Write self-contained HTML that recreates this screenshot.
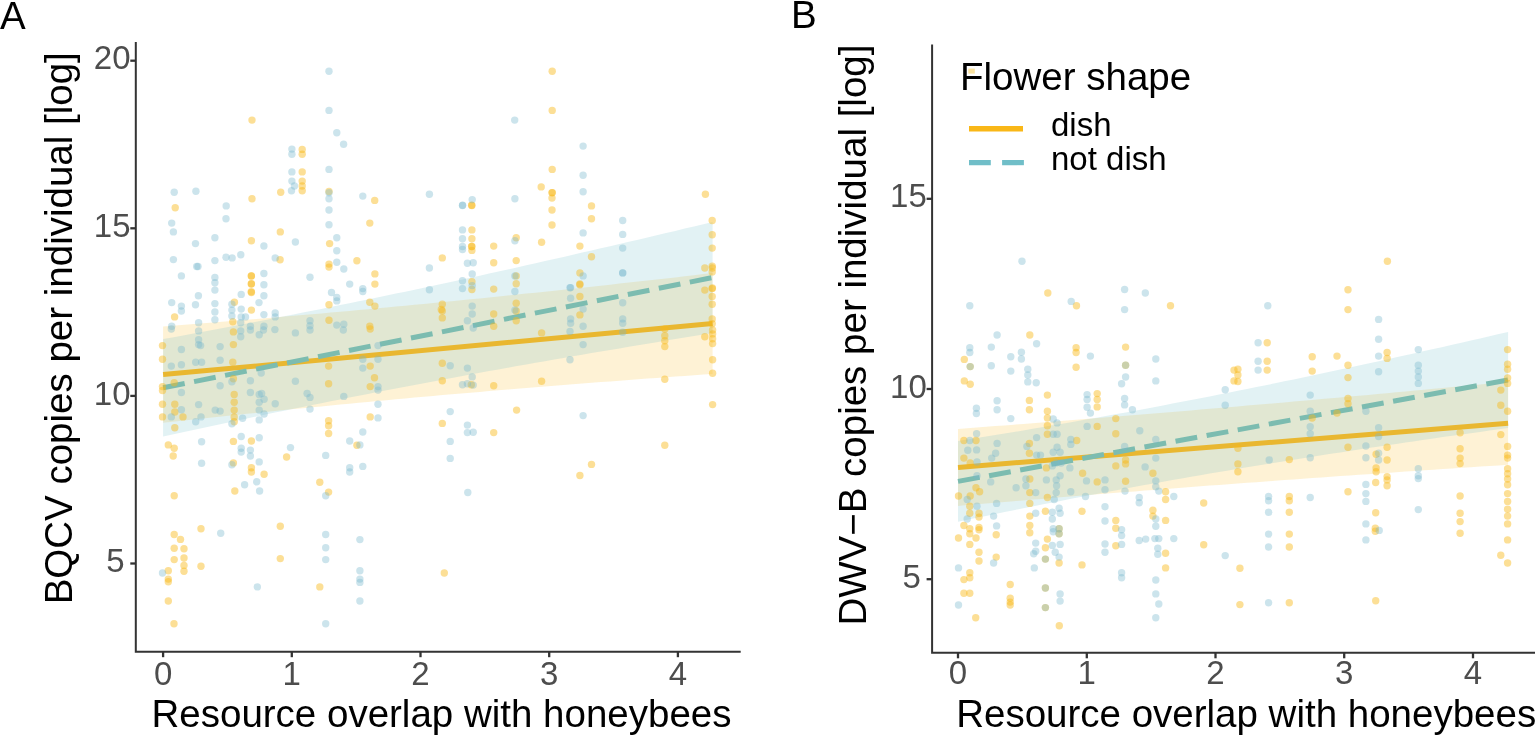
<!DOCTYPE html>
<html><head><meta charset="utf-8"><style>html,body{margin:0;padding:0;background:#fff;width:1535px;height:737px;overflow:hidden;position:relative}</style></head>
<body>
<svg width="1535" height="737" viewBox="0 0 1535 737" style="position:absolute;left:0;top:0">
<rect width="1535" height="737" fill="#fff"/>
<polygon points="163.1,326.5 172.4,325.8 181.7,325.0 191.0,324.3 200.4,323.6 209.7,322.8 219.0,322.1 228.3,321.3 237.6,320.6 246.9,319.8 256.2,319.0 265.5,318.2 274.9,317.4 284.2,316.6 293.5,315.8 302.8,315.0 312.1,314.2 321.4,313.4 330.7,312.6 340.1,311.7 349.4,310.9 358.7,310.0 368.0,309.2 377.3,308.3 386.6,307.4 395.9,306.6 405.3,305.7 414.6,304.8 423.9,303.9 433.2,303.0 442.5,302.1 451.8,301.2 461.1,300.3 470.4,299.3 479.8,298.4 489.1,297.5 498.4,296.5 507.7,295.6 517.0,294.6 526.3,293.6 535.6,292.7 545.0,291.7 554.3,290.7 563.6,289.7 572.9,288.7 582.2,287.7 591.5,286.7 600.8,285.7 610.2,284.7 619.5,283.6 628.8,282.6 638.1,281.6 647.4,280.5 656.7,279.5 666.0,278.4 675.3,277.4 684.7,276.3 694.0,275.2 703.3,274.1 712.6,273.1 712.6,373.9 703.3,374.6 694.0,375.3 684.7,375.9 675.3,376.6 666.0,377.2 656.7,377.9 647.4,378.6 638.1,379.3 628.8,380.0 619.5,380.7 610.2,381.4 600.8,382.1 591.5,382.8 582.2,383.5 572.9,384.3 563.6,385.0 554.3,385.8 545.0,386.5 535.6,387.3 526.3,388.0 517.0,388.8 507.7,389.6 498.4,390.3 489.1,391.1 479.8,391.9 470.4,392.7 461.1,393.5 451.8,394.3 442.5,395.1 433.2,396.0 423.9,396.8 414.6,397.6 405.3,398.5 395.9,399.3 386.6,400.2 377.3,401.0 368.0,401.9 358.7,402.8 349.4,403.7 340.1,404.6 330.7,405.5 321.4,406.4 312.1,407.3 302.8,408.2 293.5,409.1 284.2,410.0 274.9,411.0 265.5,411.9 256.2,412.9 246.9,413.8 237.6,414.8 228.3,415.8 219.0,416.7 209.7,417.7 200.4,418.7 191.0,419.7 181.7,420.7 172.4,421.7 163.1,422.7" fill="rgba(249,183,23,0.18)"/>
<polygon points="163.1,339.1 172.4,337.4 181.7,335.7 191.0,334.0 200.4,332.3 209.7,330.5 219.0,328.8 228.3,327.0 237.6,325.3 246.9,323.5 256.2,321.7 265.5,319.9 274.9,318.1 284.2,316.3 293.5,314.4 302.8,312.6 312.1,310.7 321.4,308.9 330.7,307.0 340.1,305.1 349.4,303.2 358.7,301.3 368.0,299.4 377.3,297.5 386.6,295.6 395.9,293.6 405.3,291.7 414.6,289.7 423.9,287.7 433.2,285.7 442.5,283.7 451.8,281.7 461.1,279.7 470.4,277.7 479.8,275.7 489.1,273.6 498.4,271.5 507.7,269.5 517.0,267.4 526.3,265.3 535.6,263.2 545.0,261.1 554.3,259.0 563.6,256.9 572.9,254.8 582.2,252.6 591.5,250.5 600.8,248.3 610.2,246.2 619.5,244.0 628.8,241.8 638.1,239.7 647.4,237.5 656.7,235.3 666.0,233.1 675.3,230.9 684.7,228.6 694.0,226.4 703.3,224.2 712.6,221.9 712.6,333.1 703.3,334.6 694.0,336.1 684.7,337.6 675.3,339.1 666.0,340.6 656.7,342.2 647.4,343.7 638.1,345.2 628.8,346.8 619.5,348.4 610.2,349.9 600.8,351.5 591.5,353.1 582.2,354.7 572.9,356.3 563.6,357.9 554.3,359.5 545.0,361.2 535.6,362.8 526.3,364.5 517.0,366.1 507.7,367.8 498.4,369.4 489.1,371.1 479.8,372.8 470.4,374.5 461.1,376.2 451.8,378.0 442.5,379.7 433.2,381.4 423.9,383.2 414.6,385.0 405.3,386.7 395.9,388.5 386.6,390.3 377.3,392.1 368.0,393.9 358.7,395.7 349.4,397.6 340.1,399.4 330.7,401.3 321.4,403.2 312.1,405.0 302.8,406.9 293.5,408.8 284.2,410.7 274.9,412.6 265.5,414.6 256.2,416.5 246.9,418.5 237.6,420.4 228.3,422.4 219.0,424.4 209.7,426.4 200.4,428.4 191.0,430.4 181.7,432.4 172.4,434.4 163.1,436.5" fill="rgba(112,190,200,0.2)"/>
<line x1="163.1" y1="374.6" x2="712.6" y2="323.5" stroke="#E9B730" stroke-width="5"/>
<line x1="163.1" y1="387.8" x2="712.6" y2="277.5" stroke="#7CBCB0" stroke-width="5" stroke-dasharray="22 9.6"/>
<circle cx="252.0" cy="120.1" r="3.7" fill="rgba(249,183,23,0.45)"/>
<circle cx="302.2" cy="149.4" r="3.7" fill="rgba(249,183,23,0.45)"/>
<circle cx="302.2" cy="154.3" r="3.7" fill="rgba(249,183,23,0.45)"/>
<circle cx="302.2" cy="171.9" r="3.7" fill="rgba(249,183,23,0.45)"/>
<circle cx="302.2" cy="181.1" r="3.7" fill="rgba(249,183,23,0.45)"/>
<circle cx="552.2" cy="71.3" r="3.7" fill="rgba(249,183,23,0.45)"/>
<circle cx="552.2" cy="110.4" r="3.7" fill="rgba(249,183,23,0.45)"/>
<circle cx="552.2" cy="169.4" r="3.7" fill="rgba(249,183,23,0.45)"/>
<circle cx="175.2" cy="207.8" r="3.7" fill="rgba(249,183,23,0.45)"/>
<circle cx="252.0" cy="198.7" r="3.7" fill="rgba(249,183,23,0.45)"/>
<circle cx="280.7" cy="192.2" r="3.7" fill="rgba(249,183,23,0.45)"/>
<circle cx="302.2" cy="186.0" r="3.7" fill="rgba(249,183,23,0.45)"/>
<circle cx="302.2" cy="190.8" r="3.7" fill="rgba(249,183,23,0.45)"/>
<circle cx="329.0" cy="191.4" r="3.7" fill="rgba(249,183,23,0.45)"/>
<circle cx="374.7" cy="200.4" r="3.7" fill="rgba(249,183,23,0.45)"/>
<circle cx="369.8" cy="223.1" r="3.7" fill="rgba(249,183,23,0.45)"/>
<circle cx="280.3" cy="231.9" r="3.7" fill="rgba(249,183,23,0.45)"/>
<circle cx="251.4" cy="240.7" r="3.7" fill="rgba(249,183,23,0.45)"/>
<circle cx="329.6" cy="243.6" r="3.7" fill="rgba(249,183,23,0.45)"/>
<circle cx="280.1" cy="259.8" r="3.7" fill="rgba(249,183,23,0.45)"/>
<circle cx="329.0" cy="264.1" r="3.7" fill="rgba(249,183,23,0.45)"/>
<circle cx="329.0" cy="267.1" r="3.7" fill="rgba(249,183,23,0.45)"/>
<circle cx="356.9" cy="260.8" r="3.7" fill="rgba(249,183,23,0.45)"/>
<circle cx="374.9" cy="273.9" r="3.7" fill="rgba(249,183,23,0.45)"/>
<circle cx="374.9" cy="284.1" r="3.7" fill="rgba(249,183,23,0.45)"/>
<circle cx="251.4" cy="275.9" r="3.7" fill="rgba(249,183,23,0.45)"/>
<circle cx="251.4" cy="283.7" r="3.7" fill="rgba(249,183,23,0.45)"/>
<circle cx="251.4" cy="292.5" r="3.7" fill="rgba(249,183,23,0.45)"/>
<circle cx="251.4" cy="310.1" r="3.7" fill="rgba(249,183,23,0.45)"/>
<circle cx="234.4" cy="302.2" r="3.7" fill="rgba(249,183,23,0.45)"/>
<circle cx="174.6" cy="316.9" r="3.7" fill="rgba(249,183,23,0.45)"/>
<circle cx="232.8" cy="321.8" r="3.7" fill="rgba(249,183,23,0.45)"/>
<circle cx="329.0" cy="304.8" r="3.7" fill="rgba(249,183,23,0.45)"/>
<circle cx="329.0" cy="320.2" r="3.7" fill="rgba(249,183,23,0.45)"/>
<circle cx="369.8" cy="302.2" r="3.7" fill="rgba(249,183,23,0.45)"/>
<circle cx="374.9" cy="306.1" r="3.7" fill="rgba(249,183,23,0.45)"/>
<circle cx="369.8" cy="326.3" r="3.7" fill="rgba(249,183,23,0.45)"/>
<circle cx="541.2" cy="186.9" r="3.7" fill="rgba(249,183,23,0.45)"/>
<circle cx="552.0" cy="192.8" r="3.7" fill="rgba(249,183,23,0.45)"/>
<circle cx="552.0" cy="198.1" r="3.7" fill="rgba(249,183,23,0.45)"/>
<circle cx="552.0" cy="210.0" r="3.7" fill="rgba(249,183,23,0.45)"/>
<circle cx="552.0" cy="225.0" r="3.7" fill="rgba(249,183,23,0.45)"/>
<circle cx="591.5" cy="205.9" r="3.7" fill="rgba(249,183,23,0.45)"/>
<circle cx="591.5" cy="218.8" r="3.7" fill="rgba(249,183,23,0.45)"/>
<circle cx="705.4" cy="194.2" r="3.7" fill="rgba(249,183,23,0.45)"/>
<circle cx="471.9" cy="205.5" r="3.7" fill="rgba(249,183,23,0.45)"/>
<circle cx="471.9" cy="229.9" r="3.7" fill="rgba(249,183,23,0.45)"/>
<circle cx="471.9" cy="238.7" r="3.7" fill="rgba(249,183,23,0.45)"/>
<circle cx="471.9" cy="246.5" r="3.7" fill="rgba(249,183,23,0.45)"/>
<circle cx="471.9" cy="250.4" r="3.7" fill="rgba(249,183,23,0.45)"/>
<circle cx="493.7" cy="246.1" r="3.7" fill="rgba(249,183,23,0.45)"/>
<circle cx="493.7" cy="262.8" r="3.7" fill="rgba(249,183,23,0.45)"/>
<circle cx="516.2" cy="237.7" r="3.7" fill="rgba(249,183,23,0.45)"/>
<circle cx="516.2" cy="260.6" r="3.7" fill="rgba(249,183,23,0.45)"/>
<circle cx="541.6" cy="242.2" r="3.7" fill="rgba(249,183,23,0.45)"/>
<circle cx="579.9" cy="246.1" r="3.7" fill="rgba(249,183,23,0.45)"/>
<circle cx="591.5" cy="256.7" r="3.7" fill="rgba(249,183,23,0.45)"/>
<circle cx="442.3" cy="257.9" r="3.7" fill="rgba(249,183,23,0.45)"/>
<circle cx="712.2" cy="220.5" r="3.7" fill="rgba(249,183,23,0.45)"/>
<circle cx="712.2" cy="234.8" r="3.7" fill="rgba(249,183,23,0.45)"/>
<circle cx="712.2" cy="248.1" r="3.7" fill="rgba(249,183,23,0.45)"/>
<circle cx="712.2" cy="266.1" r="3.7" fill="rgba(249,183,23,0.45)"/>
<circle cx="712.2" cy="271.9" r="3.7" fill="rgba(249,183,23,0.45)"/>
<circle cx="704.8" cy="268.0" r="3.7" fill="rgba(249,183,23,0.45)"/>
<circle cx="579.9" cy="272.9" r="3.7" fill="rgba(249,183,23,0.45)"/>
<circle cx="579.9" cy="284.7" r="3.7" fill="rgba(249,183,23,0.45)"/>
<circle cx="579.9" cy="296.4" r="3.7" fill="rgba(249,183,23,0.45)"/>
<circle cx="579.9" cy="314.9" r="3.7" fill="rgba(249,183,23,0.45)"/>
<circle cx="516.2" cy="275.9" r="3.7" fill="rgba(249,183,23,0.45)"/>
<circle cx="516.2" cy="283.7" r="3.7" fill="rgba(249,183,23,0.45)"/>
<circle cx="516.2" cy="303.2" r="3.7" fill="rgba(249,183,23,0.45)"/>
<circle cx="516.2" cy="311.0" r="3.7" fill="rgba(249,183,23,0.45)"/>
<circle cx="516.2" cy="320.8" r="3.7" fill="rgba(249,183,23,0.45)"/>
<circle cx="493.7" cy="289.1" r="3.7" fill="rgba(249,183,23,0.45)"/>
<circle cx="493.7" cy="314.0" r="3.7" fill="rgba(249,183,23,0.45)"/>
<circle cx="471.9" cy="281.7" r="3.7" fill="rgba(249,183,23,0.45)"/>
<circle cx="471.9" cy="289.5" r="3.7" fill="rgba(249,183,23,0.45)"/>
<circle cx="442.3" cy="304.2" r="3.7" fill="rgba(249,183,23,0.45)"/>
<circle cx="442.3" cy="311.0" r="3.7" fill="rgba(249,183,23,0.45)"/>
<circle cx="442.3" cy="317.9" r="3.7" fill="rgba(249,183,23,0.45)"/>
<circle cx="712.2" cy="288.6" r="3.7" fill="rgba(249,183,23,0.45)"/>
<circle cx="712.2" cy="296.4" r="3.7" fill="rgba(249,183,23,0.45)"/>
<circle cx="712.2" cy="304.2" r="3.7" fill="rgba(249,183,23,0.45)"/>
<circle cx="704.8" cy="290.1" r="3.7" fill="rgba(249,183,23,0.45)"/>
<circle cx="712.2" cy="318.9" r="3.7" fill="rgba(249,183,23,0.45)"/>
<circle cx="712.2" cy="323.7" r="3.7" fill="rgba(249,183,23,0.45)"/>
<circle cx="493.7" cy="326.3" r="3.7" fill="rgba(249,183,23,0.45)"/>
<circle cx="162.5" cy="345.6" r="3.7" fill="rgba(249,183,23,0.45)"/>
<circle cx="162.5" cy="359.3" r="3.7" fill="rgba(249,183,23,0.45)"/>
<circle cx="162.5" cy="386.6" r="3.7" fill="rgba(249,183,23,0.45)"/>
<circle cx="162.5" cy="390.5" r="3.7" fill="rgba(249,183,23,0.45)"/>
<circle cx="162.5" cy="404.2" r="3.7" fill="rgba(249,183,23,0.45)"/>
<circle cx="162.5" cy="416.9" r="3.7" fill="rgba(249,183,23,0.45)"/>
<circle cx="174.2" cy="382.7" r="3.7" fill="rgba(249,183,23,0.45)"/>
<circle cx="174.8" cy="404.2" r="3.7" fill="rgba(249,183,23,0.45)"/>
<circle cx="174.8" cy="412.0" r="3.7" fill="rgba(249,183,23,0.45)"/>
<circle cx="183.0" cy="416.9" r="3.7" fill="rgba(249,183,23,0.45)"/>
<circle cx="174.8" cy="427.7" r="3.7" fill="rgba(249,183,23,0.45)"/>
<circle cx="233.4" cy="331.9" r="3.7" fill="rgba(249,183,23,0.45)"/>
<circle cx="233.4" cy="344.6" r="3.7" fill="rgba(249,183,23,0.45)"/>
<circle cx="232.8" cy="362.2" r="3.7" fill="rgba(249,183,23,0.45)"/>
<circle cx="233.4" cy="378.8" r="3.7" fill="rgba(249,183,23,0.45)"/>
<circle cx="234.2" cy="394.4" r="3.7" fill="rgba(249,183,23,0.45)"/>
<circle cx="234.2" cy="402.3" r="3.7" fill="rgba(249,183,23,0.45)"/>
<circle cx="234.2" cy="410.1" r="3.7" fill="rgba(249,183,23,0.45)"/>
<circle cx="234.2" cy="416.9" r="3.7" fill="rgba(249,183,23,0.45)"/>
<circle cx="234.2" cy="421.8" r="3.7" fill="rgba(249,183,23,0.45)"/>
<circle cx="328.6" cy="366.1" r="3.7" fill="rgba(249,183,23,0.45)"/>
<circle cx="328.6" cy="383.7" r="3.7" fill="rgba(249,183,23,0.45)"/>
<circle cx="370.2" cy="366.1" r="3.7" fill="rgba(249,183,23,0.45)"/>
<circle cx="374.5" cy="377.8" r="3.7" fill="rgba(249,183,23,0.45)"/>
<circle cx="370.2" cy="386.6" r="3.7" fill="rgba(249,183,23,0.45)"/>
<circle cx="370.2" cy="416.9" r="3.7" fill="rgba(249,183,23,0.45)"/>
<circle cx="328.6" cy="420.8" r="3.7" fill="rgba(249,183,23,0.45)"/>
<circle cx="328.6" cy="425.7" r="3.7" fill="rgba(249,183,23,0.45)"/>
<circle cx="328.6" cy="433.5" r="3.7" fill="rgba(249,183,23,0.45)"/>
<circle cx="370.2" cy="329.0" r="3.7" fill="rgba(249,183,23,0.45)"/>
<circle cx="168.3" cy="444.9" r="3.7" fill="rgba(249,183,23,0.45)"/>
<circle cx="174.2" cy="448.2" r="3.7" fill="rgba(249,183,23,0.45)"/>
<circle cx="173.2" cy="456.0" r="3.7" fill="rgba(249,183,23,0.45)"/>
<circle cx="233.4" cy="441.4" r="3.7" fill="rgba(249,183,23,0.45)"/>
<circle cx="251.4" cy="441.0" r="3.7" fill="rgba(249,183,23,0.45)"/>
<circle cx="233.4" cy="462.9" r="3.7" fill="rgba(249,183,23,0.45)"/>
<circle cx="286.6" cy="457.0" r="3.7" fill="rgba(249,183,23,0.45)"/>
<circle cx="251.4" cy="467.7" r="3.7" fill="rgba(249,183,23,0.45)"/>
<circle cx="356.9" cy="445.3" r="3.7" fill="rgba(249,183,23,0.45)"/>
<circle cx="541.6" cy="332.9" r="3.7" fill="rgba(249,183,23,0.45)"/>
<circle cx="442.3" cy="363.2" r="3.7" fill="rgba(249,183,23,0.45)"/>
<circle cx="442.3" cy="380.8" r="3.7" fill="rgba(249,183,23,0.45)"/>
<circle cx="471.3" cy="384.7" r="3.7" fill="rgba(249,183,23,0.45)"/>
<circle cx="493.7" cy="385.7" r="3.7" fill="rgba(249,183,23,0.45)"/>
<circle cx="541.6" cy="381.2" r="3.7" fill="rgba(249,183,23,0.45)"/>
<circle cx="664.8" cy="329.0" r="3.7" fill="rgba(249,183,23,0.45)"/>
<circle cx="664.8" cy="335.8" r="3.7" fill="rgba(249,183,23,0.45)"/>
<circle cx="664.8" cy="340.7" r="3.7" fill="rgba(249,183,23,0.45)"/>
<circle cx="664.8" cy="346.6" r="3.7" fill="rgba(249,183,23,0.45)"/>
<circle cx="712.6" cy="330.0" r="3.7" fill="rgba(249,183,23,0.45)"/>
<circle cx="712.6" cy="333.9" r="3.7" fill="rgba(249,183,23,0.45)"/>
<circle cx="712.6" cy="338.7" r="3.7" fill="rgba(249,183,23,0.45)"/>
<circle cx="712.6" cy="343.6" r="3.7" fill="rgba(249,183,23,0.45)"/>
<circle cx="704.8" cy="336.8" r="3.7" fill="rgba(249,183,23,0.45)"/>
<circle cx="712.6" cy="359.7" r="3.7" fill="rgba(249,183,23,0.45)"/>
<circle cx="712.6" cy="373.3" r="3.7" fill="rgba(249,183,23,0.45)"/>
<circle cx="664.8" cy="379.2" r="3.7" fill="rgba(249,183,23,0.45)"/>
<circle cx="712.6" cy="404.6" r="3.7" fill="rgba(249,183,23,0.45)"/>
<circle cx="516.6" cy="410.1" r="3.7" fill="rgba(249,183,23,0.45)"/>
<circle cx="442.3" cy="423.4" r="3.7" fill="rgba(249,183,23,0.45)"/>
<circle cx="493.7" cy="432.6" r="3.7" fill="rgba(249,183,23,0.45)"/>
<circle cx="664.8" cy="445.3" r="3.7" fill="rgba(249,183,23,0.45)"/>
<circle cx="591.5" cy="464.4" r="3.7" fill="rgba(249,183,23,0.45)"/>
<circle cx="251.4" cy="472.0" r="3.7" fill="rgba(249,183,23,0.45)"/>
<circle cx="264.1" cy="474.3" r="3.7" fill="rgba(249,183,23,0.45)"/>
<circle cx="234.8" cy="491.0" r="3.7" fill="rgba(249,183,23,0.45)"/>
<circle cx="174.2" cy="495.8" r="3.7" fill="rgba(249,183,23,0.45)"/>
<circle cx="319.8" cy="482.2" r="3.7" fill="rgba(249,183,23,0.45)"/>
<circle cx="328.6" cy="492.1" r="3.7" fill="rgba(249,183,23,0.45)"/>
<circle cx="201.0" cy="528.7" r="3.7" fill="rgba(249,183,23,0.45)"/>
<circle cx="280.3" cy="526.3" r="3.7" fill="rgba(249,183,23,0.45)"/>
<circle cx="174.2" cy="534.5" r="3.7" fill="rgba(249,183,23,0.45)"/>
<circle cx="180.5" cy="539.4" r="3.7" fill="rgba(249,183,23,0.45)"/>
<circle cx="174.2" cy="548.2" r="3.7" fill="rgba(249,183,23,0.45)"/>
<circle cx="184.0" cy="548.8" r="3.7" fill="rgba(249,183,23,0.45)"/>
<circle cx="174.2" cy="559.6" r="3.7" fill="rgba(249,183,23,0.45)"/>
<circle cx="184.0" cy="558.0" r="3.7" fill="rgba(249,183,23,0.45)"/>
<circle cx="184.0" cy="565.4" r="3.7" fill="rgba(249,183,23,0.45)"/>
<circle cx="184.0" cy="571.3" r="3.7" fill="rgba(249,183,23,0.45)"/>
<circle cx="168.3" cy="570.7" r="3.7" fill="rgba(249,183,23,0.45)"/>
<circle cx="168.3" cy="579.1" r="3.7" fill="rgba(249,183,23,0.45)"/>
<circle cx="168.3" cy="581.8" r="3.7" fill="rgba(249,183,23,0.45)"/>
<circle cx="201.0" cy="566.2" r="3.7" fill="rgba(249,183,23,0.45)"/>
<circle cx="280.3" cy="558.6" r="3.7" fill="rgba(249,183,23,0.45)"/>
<circle cx="319.8" cy="586.9" r="3.7" fill="rgba(249,183,23,0.45)"/>
<circle cx="168.3" cy="601.0" r="3.7" fill="rgba(249,183,23,0.45)"/>
<circle cx="579.9" cy="475.5" r="3.7" fill="rgba(249,183,23,0.45)"/>
<circle cx="444.3" cy="573.0" r="3.7" fill="rgba(249,183,23,0.45)"/>
<circle cx="174" cy="623.7" r="3.7" fill="rgba(249,183,23,0.45)"/>
<circle cx="251.3" cy="276" r="3.7" fill="rgba(249,183,23,0.45)"/>
<circle cx="251.3" cy="284" r="3.7" fill="rgba(249,183,23,0.45)"/>
<circle cx="251.3" cy="291.8" r="3.7" fill="rgba(249,183,23,0.45)"/>
<circle cx="471.6" cy="205.2" r="3.7" fill="rgba(249,183,23,0.45)"/>
<circle cx="471.6" cy="246.5" r="3.7" fill="rgba(249,183,23,0.45)"/>
<circle cx="552.3" cy="192.6" r="3.7" fill="rgba(249,183,23,0.45)"/>
<circle cx="441.3" cy="309.5" r="3.7" fill="rgba(249,183,23,0.45)"/>
<circle cx="712.4" cy="268" r="3.7" fill="rgba(249,183,23,0.45)"/>
<circle cx="712.4" cy="288" r="3.7" fill="rgba(249,183,23,0.45)"/>
<circle cx="579.8" cy="283.9" r="3.7" fill="rgba(249,183,23,0.45)"/>
<circle cx="329.0" cy="71.3" r="3.7" fill="rgba(120,185,205,0.38)"/>
<circle cx="329.0" cy="110.4" r="3.7" fill="rgba(120,185,205,0.38)"/>
<circle cx="336.8" cy="132.8" r="3.7" fill="rgba(120,185,205,0.38)"/>
<circle cx="343.6" cy="144.2" r="3.7" fill="rgba(120,185,205,0.38)"/>
<circle cx="291.9" cy="149.1" r="3.7" fill="rgba(120,185,205,0.38)"/>
<circle cx="291.9" cy="154.3" r="3.7" fill="rgba(120,185,205,0.38)"/>
<circle cx="291.9" cy="171.9" r="3.7" fill="rgba(120,185,205,0.38)"/>
<circle cx="329.0" cy="169.4" r="3.7" fill="rgba(120,185,205,0.38)"/>
<circle cx="291.9" cy="181.1" r="3.7" fill="rgba(120,185,205,0.38)"/>
<circle cx="514.7" cy="120.1" r="3.7" fill="rgba(120,185,205,0.38)"/>
<circle cx="583.1" cy="146.1" r="3.7" fill="rgba(120,185,205,0.38)"/>
<circle cx="583.1" cy="175.2" r="3.7" fill="rgba(120,185,205,0.38)"/>
<circle cx="174.2" cy="192.2" r="3.7" fill="rgba(120,185,205,0.38)"/>
<circle cx="195.9" cy="191.2" r="3.7" fill="rgba(120,185,205,0.38)"/>
<circle cx="226.2" cy="205.9" r="3.7" fill="rgba(120,185,205,0.38)"/>
<circle cx="226.0" cy="218.8" r="3.7" fill="rgba(120,185,205,0.38)"/>
<circle cx="171.7" cy="223.1" r="3.7" fill="rgba(120,185,205,0.38)"/>
<circle cx="173.4" cy="231.9" r="3.7" fill="rgba(120,185,205,0.38)"/>
<circle cx="214.9" cy="237.7" r="3.7" fill="rgba(120,185,205,0.38)"/>
<circle cx="195.5" cy="243.6" r="3.7" fill="rgba(120,185,205,0.38)"/>
<circle cx="173.4" cy="259.6" r="3.7" fill="rgba(120,185,205,0.38)"/>
<circle cx="214.9" cy="260.6" r="3.7" fill="rgba(120,185,205,0.38)"/>
<circle cx="226.0" cy="257.3" r="3.7" fill="rgba(120,185,205,0.38)"/>
<circle cx="232.1" cy="257.9" r="3.7" fill="rgba(120,185,205,0.38)"/>
<circle cx="240.8" cy="254.7" r="3.7" fill="rgba(120,185,205,0.38)"/>
<circle cx="263.9" cy="246.0" r="3.7" fill="rgba(120,185,205,0.38)"/>
<circle cx="295.4" cy="242.0" r="3.7" fill="rgba(120,185,205,0.38)"/>
<circle cx="196.7" cy="266.5" r="3.7" fill="rgba(120,185,205,0.38)"/>
<circle cx="198.0" cy="266.5" r="3.7" fill="rgba(120,185,205,0.38)"/>
<circle cx="181.4" cy="275.9" r="3.7" fill="rgba(120,185,205,0.38)"/>
<circle cx="214.9" cy="277.4" r="3.7" fill="rgba(120,185,205,0.38)"/>
<circle cx="214.9" cy="282.7" r="3.7" fill="rgba(120,185,205,0.38)"/>
<circle cx="214.9" cy="290.1" r="3.7" fill="rgba(120,185,205,0.38)"/>
<circle cx="263.9" cy="273.5" r="3.7" fill="rgba(120,185,205,0.38)"/>
<circle cx="263.9" cy="284.7" r="3.7" fill="rgba(120,185,205,0.38)"/>
<circle cx="198.4" cy="295.8" r="3.7" fill="rgba(120,185,205,0.38)"/>
<circle cx="241.2" cy="294.4" r="3.7" fill="rgba(120,185,205,0.38)"/>
<circle cx="263.9" cy="295.8" r="3.7" fill="rgba(120,185,205,0.38)"/>
<circle cx="259.0" cy="302.6" r="3.7" fill="rgba(120,185,205,0.38)"/>
<circle cx="171.7" cy="302.6" r="3.7" fill="rgba(120,185,205,0.38)"/>
<circle cx="181.4" cy="306.1" r="3.7" fill="rgba(120,185,205,0.38)"/>
<circle cx="181.4" cy="311.0" r="3.7" fill="rgba(120,185,205,0.38)"/>
<circle cx="195.5" cy="304.8" r="3.7" fill="rgba(120,185,205,0.38)"/>
<circle cx="214.9" cy="303.6" r="3.7" fill="rgba(120,185,205,0.38)"/>
<circle cx="214.9" cy="312.0" r="3.7" fill="rgba(120,185,205,0.38)"/>
<circle cx="214.9" cy="319.8" r="3.7" fill="rgba(120,185,205,0.38)"/>
<circle cx="231.9" cy="304.2" r="3.7" fill="rgba(120,185,205,0.38)"/>
<circle cx="231.9" cy="310.1" r="3.7" fill="rgba(120,185,205,0.38)"/>
<circle cx="231.9" cy="315.9" r="3.7" fill="rgba(120,185,205,0.38)"/>
<circle cx="241.2" cy="309.1" r="3.7" fill="rgba(120,185,205,0.38)"/>
<circle cx="241.2" cy="316.9" r="3.7" fill="rgba(120,185,205,0.38)"/>
<circle cx="245.5" cy="316.9" r="3.7" fill="rgba(120,185,205,0.38)"/>
<circle cx="263.9" cy="314.6" r="3.7" fill="rgba(120,185,205,0.38)"/>
<circle cx="275.2" cy="313.0" r="3.7" fill="rgba(120,185,205,0.38)"/>
<circle cx="275.2" cy="316.9" r="3.7" fill="rgba(120,185,205,0.38)"/>
<circle cx="275.2" cy="257.9" r="3.7" fill="rgba(120,185,205,0.38)"/>
<circle cx="198.6" cy="322.8" r="3.7" fill="rgba(120,185,205,0.38)"/>
<circle cx="171.7" cy="326.3" r="3.7" fill="rgba(120,185,205,0.38)"/>
<circle cx="310.0" cy="277.2" r="3.7" fill="rgba(120,185,205,0.38)"/>
<circle cx="310.0" cy="320.8" r="3.7" fill="rgba(120,185,205,0.38)"/>
<circle cx="310.0" cy="325.7" r="3.7" fill="rgba(120,185,205,0.38)"/>
<circle cx="329.0" cy="192.8" r="3.7" fill="rgba(120,185,205,0.38)"/>
<circle cx="329.0" cy="198.7" r="3.7" fill="rgba(120,185,205,0.38)"/>
<circle cx="329.0" cy="210.0" r="3.7" fill="rgba(120,185,205,0.38)"/>
<circle cx="329.0" cy="224.7" r="3.7" fill="rgba(120,185,205,0.38)"/>
<circle cx="336.8" cy="237.7" r="3.7" fill="rgba(120,185,205,0.38)"/>
<circle cx="336.8" cy="250.8" r="3.7" fill="rgba(120,185,205,0.38)"/>
<circle cx="336.8" cy="262.2" r="3.7" fill="rgba(120,185,205,0.38)"/>
<circle cx="343.8" cy="269.0" r="3.7" fill="rgba(120,185,205,0.38)"/>
<circle cx="331.5" cy="292.5" r="3.7" fill="rgba(120,185,205,0.38)"/>
<circle cx="336.8" cy="297.4" r="3.7" fill="rgba(120,185,205,0.38)"/>
<circle cx="336.8" cy="300.9" r="3.7" fill="rgba(120,185,205,0.38)"/>
<circle cx="349.7" cy="284.1" r="3.7" fill="rgba(120,185,205,0.38)"/>
<circle cx="362.8" cy="288.6" r="3.7" fill="rgba(120,185,205,0.38)"/>
<circle cx="362.8" cy="291.5" r="3.7" fill="rgba(120,185,205,0.38)"/>
<circle cx="362.8" cy="196.1" r="3.7" fill="rgba(120,185,205,0.38)"/>
<circle cx="429.4" cy="194.2" r="3.7" fill="rgba(120,185,205,0.38)"/>
<circle cx="429.4" cy="268.0" r="3.7" fill="rgba(120,185,205,0.38)"/>
<circle cx="429.4" cy="289.7" r="3.7" fill="rgba(120,185,205,0.38)"/>
<circle cx="336.8" cy="325.1" r="3.7" fill="rgba(120,185,205,0.38)"/>
<circle cx="343.8" cy="324.3" r="3.7" fill="rgba(120,185,205,0.38)"/>
<circle cx="294.4" cy="186.0" r="3.7" fill="rgba(120,185,205,0.38)"/>
<circle cx="291.5" cy="190.8" r="3.7" fill="rgba(120,185,205,0.38)"/>
<circle cx="263.9" cy="326.3" r="3.7" fill="rgba(120,185,205,0.38)"/>
<circle cx="250.4" cy="326.3" r="3.7" fill="rgba(120,185,205,0.38)"/>
<circle cx="240.7" cy="322.8" r="3.7" fill="rgba(120,185,205,0.38)"/>
<circle cx="462.5" cy="205.5" r="3.7" fill="rgba(120,185,205,0.38)"/>
<circle cx="472.2" cy="199.6" r="3.7" fill="rgba(120,185,205,0.38)"/>
<circle cx="514.9" cy="198.7" r="3.7" fill="rgba(120,185,205,0.38)"/>
<circle cx="583.1" cy="191.8" r="3.7" fill="rgba(120,185,205,0.38)"/>
<circle cx="462.5" cy="229.9" r="3.7" fill="rgba(120,185,205,0.38)"/>
<circle cx="462.5" cy="238.7" r="3.7" fill="rgba(120,185,205,0.38)"/>
<circle cx="462.5" cy="246.5" r="3.7" fill="rgba(120,185,205,0.38)"/>
<circle cx="462.5" cy="249.5" r="3.7" fill="rgba(120,185,205,0.38)"/>
<circle cx="467.4" cy="263.2" r="3.7" fill="rgba(120,185,205,0.38)"/>
<circle cx="473.2" cy="262.8" r="3.7" fill="rgba(120,185,205,0.38)"/>
<circle cx="472.2" cy="273.9" r="3.7" fill="rgba(120,185,205,0.38)"/>
<circle cx="462.5" cy="280.7" r="3.7" fill="rgba(120,185,205,0.38)"/>
<circle cx="462.5" cy="288.6" r="3.7" fill="rgba(120,185,205,0.38)"/>
<circle cx="472.2" cy="285.6" r="3.7" fill="rgba(120,185,205,0.38)"/>
<circle cx="514.9" cy="240.7" r="3.7" fill="rgba(120,185,205,0.38)"/>
<circle cx="514.9" cy="275.9" r="3.7" fill="rgba(120,185,205,0.38)"/>
<circle cx="514.9" cy="291.5" r="3.7" fill="rgba(120,185,205,0.38)"/>
<circle cx="583.1" cy="232.9" r="3.7" fill="rgba(120,185,205,0.38)"/>
<circle cx="583.1" cy="275.9" r="3.7" fill="rgba(120,185,205,0.38)"/>
<circle cx="570.6" cy="287.6" r="3.7" fill="rgba(120,185,205,0.38)"/>
<circle cx="570.6" cy="298.3" r="3.7" fill="rgba(120,185,205,0.38)"/>
<circle cx="570.6" cy="318.9" r="3.7" fill="rgba(120,185,205,0.38)"/>
<circle cx="570.6" cy="323.2" r="3.7" fill="rgba(120,185,205,0.38)"/>
<circle cx="583.1" cy="309.1" r="3.7" fill="rgba(120,185,205,0.38)"/>
<circle cx="622.7" cy="220.5" r="3.7" fill="rgba(120,185,205,0.38)"/>
<circle cx="622.7" cy="234.4" r="3.7" fill="rgba(120,185,205,0.38)"/>
<circle cx="622.7" cy="248.1" r="3.7" fill="rgba(120,185,205,0.38)"/>
<circle cx="622.7" cy="272.9" r="3.7" fill="rgba(120,185,205,0.38)"/>
<circle cx="622.7" cy="302.8" r="3.7" fill="rgba(120,185,205,0.38)"/>
<circle cx="622.7" cy="318.9" r="3.7" fill="rgba(120,185,205,0.38)"/>
<circle cx="622.7" cy="323.2" r="3.7" fill="rgba(120,185,205,0.38)"/>
<circle cx="472.2" cy="306.1" r="3.7" fill="rgba(120,185,205,0.38)"/>
<circle cx="472.2" cy="314.0" r="3.7" fill="rgba(120,185,205,0.38)"/>
<circle cx="467.4" cy="320.8" r="3.7" fill="rgba(120,185,205,0.38)"/>
<circle cx="514.9" cy="310.1" r="3.7" fill="rgba(120,185,205,0.38)"/>
<circle cx="583.1" cy="326.3" r="3.7" fill="rgba(120,185,205,0.38)"/>
<circle cx="171.3" cy="329.0" r="3.7" fill="rgba(120,185,205,0.38)"/>
<circle cx="198.6" cy="330.9" r="3.7" fill="rgba(120,185,205,0.38)"/>
<circle cx="198.6" cy="339.7" r="3.7" fill="rgba(120,185,205,0.38)"/>
<circle cx="198.6" cy="344.6" r="3.7" fill="rgba(120,185,205,0.38)"/>
<circle cx="200.6" cy="345.6" r="3.7" fill="rgba(120,185,205,0.38)"/>
<circle cx="181.4" cy="349.5" r="3.7" fill="rgba(120,185,205,0.38)"/>
<circle cx="220.1" cy="346.6" r="3.7" fill="rgba(120,185,205,0.38)"/>
<circle cx="220.1" cy="360.2" r="3.7" fill="rgba(120,185,205,0.38)"/>
<circle cx="240.7" cy="330.9" r="3.7" fill="rgba(120,185,205,0.38)"/>
<circle cx="240.7" cy="336.8" r="3.7" fill="rgba(120,185,205,0.38)"/>
<circle cx="250.4" cy="330.0" r="3.7" fill="rgba(120,185,205,0.38)"/>
<circle cx="259.2" cy="334.8" r="3.7" fill="rgba(120,185,205,0.38)"/>
<circle cx="263.5" cy="330.0" r="3.7" fill="rgba(120,185,205,0.38)"/>
<circle cx="274.9" cy="329.6" r="3.7" fill="rgba(120,185,205,0.38)"/>
<circle cx="295.4" cy="332.9" r="3.7" fill="rgba(120,185,205,0.38)"/>
<circle cx="310.0" cy="330.0" r="3.7" fill="rgba(120,185,205,0.38)"/>
<circle cx="343.3" cy="330.0" r="3.7" fill="rgba(120,185,205,0.38)"/>
<circle cx="171.3" cy="366.1" r="3.7" fill="rgba(120,185,205,0.38)"/>
<circle cx="181.4" cy="364.7" r="3.7" fill="rgba(120,185,205,0.38)"/>
<circle cx="195.7" cy="362.2" r="3.7" fill="rgba(120,185,205,0.38)"/>
<circle cx="201.6" cy="362.2" r="3.7" fill="rgba(120,185,205,0.38)"/>
<circle cx="220.1" cy="385.7" r="3.7" fill="rgba(120,185,205,0.38)"/>
<circle cx="181.4" cy="392.5" r="3.7" fill="rgba(120,185,205,0.38)"/>
<circle cx="231.9" cy="381.7" r="3.7" fill="rgba(120,185,205,0.38)"/>
<circle cx="250.4" cy="380.8" r="3.7" fill="rgba(120,185,205,0.38)"/>
<circle cx="261.2" cy="373.0" r="3.7" fill="rgba(120,185,205,0.38)"/>
<circle cx="250.4" cy="392.5" r="3.7" fill="rgba(120,185,205,0.38)"/>
<circle cx="259.2" cy="394.4" r="3.7" fill="rgba(120,185,205,0.38)"/>
<circle cx="261.6" cy="393.5" r="3.7" fill="rgba(120,185,205,0.38)"/>
<circle cx="259.2" cy="402.3" r="3.7" fill="rgba(120,185,205,0.38)"/>
<circle cx="264.1" cy="399.3" r="3.7" fill="rgba(120,185,205,0.38)"/>
<circle cx="259.2" cy="410.1" r="3.7" fill="rgba(120,185,205,0.38)"/>
<circle cx="264.1" cy="414.0" r="3.7" fill="rgba(120,185,205,0.38)"/>
<circle cx="259.2" cy="419.9" r="3.7" fill="rgba(120,185,205,0.38)"/>
<circle cx="275.2" cy="403.8" r="3.7" fill="rgba(120,185,205,0.38)"/>
<circle cx="295.4" cy="381.2" r="3.7" fill="rgba(120,185,205,0.38)"/>
<circle cx="307.1" cy="393.5" r="3.7" fill="rgba(120,185,205,0.38)"/>
<circle cx="310.0" cy="397.4" r="3.7" fill="rgba(120,185,205,0.38)"/>
<circle cx="310.0" cy="409.1" r="3.7" fill="rgba(120,185,205,0.38)"/>
<circle cx="343.8" cy="396.4" r="3.7" fill="rgba(120,185,205,0.38)"/>
<circle cx="362.8" cy="359.3" r="3.7" fill="rgba(120,185,205,0.38)"/>
<circle cx="362.8" cy="368.1" r="3.7" fill="rgba(120,185,205,0.38)"/>
<circle cx="378.0" cy="345.6" r="3.7" fill="rgba(120,185,205,0.38)"/>
<circle cx="378.0" cy="359.3" r="3.7" fill="rgba(120,185,205,0.38)"/>
<circle cx="378.0" cy="386.6" r="3.7" fill="rgba(120,185,205,0.38)"/>
<circle cx="378.0" cy="390.1" r="3.7" fill="rgba(120,185,205,0.38)"/>
<circle cx="378.0" cy="404.2" r="3.7" fill="rgba(120,185,205,0.38)"/>
<circle cx="378.0" cy="417.9" r="3.7" fill="rgba(120,185,205,0.38)"/>
<circle cx="198.6" cy="404.6" r="3.7" fill="rgba(120,185,205,0.38)"/>
<circle cx="181.4" cy="409.7" r="3.7" fill="rgba(120,185,205,0.38)"/>
<circle cx="215.2" cy="410.1" r="3.7" fill="rgba(120,185,205,0.38)"/>
<circle cx="220.1" cy="411.1" r="3.7" fill="rgba(120,185,205,0.38)"/>
<circle cx="171.3" cy="416.9" r="3.7" fill="rgba(120,185,205,0.38)"/>
<circle cx="201.0" cy="416.9" r="3.7" fill="rgba(120,185,205,0.38)"/>
<circle cx="195.7" cy="421.8" r="3.7" fill="rgba(120,185,205,0.38)"/>
<circle cx="242.6" cy="418.3" r="3.7" fill="rgba(120,185,205,0.38)"/>
<circle cx="231.9" cy="423.8" r="3.7" fill="rgba(120,185,205,0.38)"/>
<circle cx="201.6" cy="441.7" r="3.7" fill="rgba(120,185,205,0.38)"/>
<circle cx="241.2" cy="436.5" r="3.7" fill="rgba(120,185,205,0.38)"/>
<circle cx="259.2" cy="437.8" r="3.7" fill="rgba(120,185,205,0.38)"/>
<circle cx="241.2" cy="448.2" r="3.7" fill="rgba(120,185,205,0.38)"/>
<circle cx="241.2" cy="452.1" r="3.7" fill="rgba(120,185,205,0.38)"/>
<circle cx="250.4" cy="450.1" r="3.7" fill="rgba(120,185,205,0.38)"/>
<circle cx="250.4" cy="456.0" r="3.7" fill="rgba(120,185,205,0.38)"/>
<circle cx="290.5" cy="447.6" r="3.7" fill="rgba(120,185,205,0.38)"/>
<circle cx="325.7" cy="455.4" r="3.7" fill="rgba(120,185,205,0.38)"/>
<circle cx="349.7" cy="441.0" r="3.7" fill="rgba(120,185,205,0.38)"/>
<circle cx="362.8" cy="432.0" r="3.7" fill="rgba(120,185,205,0.38)"/>
<circle cx="359.9" cy="444.9" r="3.7" fill="rgba(120,185,205,0.38)"/>
<circle cx="201.6" cy="463.2" r="3.7" fill="rgba(120,185,205,0.38)"/>
<circle cx="259.2" cy="461.9" r="3.7" fill="rgba(120,185,205,0.38)"/>
<circle cx="349.7" cy="467.7" r="3.7" fill="rgba(120,185,205,0.38)"/>
<circle cx="362.8" cy="466.4" r="3.7" fill="rgba(120,185,205,0.38)"/>
<circle cx="231.9" cy="464.8" r="3.7" fill="rgba(120,185,205,0.38)"/>
<circle cx="473.2" cy="328.0" r="3.7" fill="rgba(120,185,205,0.38)"/>
<circle cx="570.0" cy="331.5" r="3.7" fill="rgba(120,185,205,0.38)"/>
<circle cx="583.1" cy="344.6" r="3.7" fill="rgba(120,185,205,0.38)"/>
<circle cx="622.7" cy="332.3" r="3.7" fill="rgba(120,185,205,0.38)"/>
<circle cx="450.2" cy="365.7" r="3.7" fill="rgba(120,185,205,0.38)"/>
<circle cx="467.4" cy="368.1" r="3.7" fill="rgba(120,185,205,0.38)"/>
<circle cx="472.2" cy="376.9" r="3.7" fill="rgba(120,185,205,0.38)"/>
<circle cx="462.5" cy="384.7" r="3.7" fill="rgba(120,185,205,0.38)"/>
<circle cx="467.4" cy="383.7" r="3.7" fill="rgba(120,185,205,0.38)"/>
<circle cx="473.2" cy="385.1" r="3.7" fill="rgba(120,185,205,0.38)"/>
<circle cx="570.0" cy="359.7" r="3.7" fill="rgba(120,185,205,0.38)"/>
<circle cx="450.2" cy="411.6" r="3.7" fill="rgba(120,185,205,0.38)"/>
<circle cx="583.1" cy="415.6" r="3.7" fill="rgba(120,185,205,0.38)"/>
<circle cx="467.4" cy="425.1" r="3.7" fill="rgba(120,185,205,0.38)"/>
<circle cx="467.4" cy="432.6" r="3.7" fill="rgba(120,185,205,0.38)"/>
<circle cx="473.2" cy="432.2" r="3.7" fill="rgba(120,185,205,0.38)"/>
<circle cx="450.2" cy="441.4" r="3.7" fill="rgba(120,185,205,0.38)"/>
<circle cx="450.2" cy="458.4" r="3.7" fill="rgba(120,185,205,0.38)"/>
<circle cx="349.7" cy="472.0" r="3.7" fill="rgba(120,185,205,0.38)"/>
<circle cx="244.6" cy="484.7" r="3.7" fill="rgba(120,185,205,0.38)"/>
<circle cx="256.7" cy="481.8" r="3.7" fill="rgba(120,185,205,0.38)"/>
<circle cx="259.6" cy="491.0" r="3.7" fill="rgba(120,185,205,0.38)"/>
<circle cx="325.7" cy="495.8" r="3.7" fill="rgba(120,185,205,0.38)"/>
<circle cx="220.7" cy="533.2" r="3.7" fill="rgba(120,185,205,0.38)"/>
<circle cx="325.7" cy="534.5" r="3.7" fill="rgba(120,185,205,0.38)"/>
<circle cx="359.9" cy="539.6" r="3.7" fill="rgba(120,185,205,0.38)"/>
<circle cx="325.7" cy="547.8" r="3.7" fill="rgba(120,185,205,0.38)"/>
<circle cx="325.7" cy="559.6" r="3.7" fill="rgba(120,185,205,0.38)"/>
<circle cx="359.9" cy="570.7" r="3.7" fill="rgba(120,185,205,0.38)"/>
<circle cx="359.9" cy="579.1" r="3.7" fill="rgba(120,185,205,0.38)"/>
<circle cx="359.9" cy="582.4" r="3.7" fill="rgba(120,185,205,0.38)"/>
<circle cx="162.5" cy="573.0" r="3.7" fill="rgba(120,185,205,0.38)"/>
<circle cx="257.3" cy="586.9" r="3.7" fill="rgba(120,185,205,0.38)"/>
<circle cx="359.9" cy="601.0" r="3.7" fill="rgba(120,185,205,0.38)"/>
<circle cx="467.8" cy="492.5" r="3.7" fill="rgba(120,185,205,0.38)"/>
<circle cx="325.7" cy="623.7" r="3.7" fill="rgba(120,185,205,0.38)"/>
<circle cx="462.6" cy="205.2" r="3.7" fill="rgba(120,185,205,0.38)"/>
<circle cx="570" cy="287.8" r="3.7" fill="rgba(120,185,205,0.38)"/>
<circle cx="622.7" cy="272.9" r="3.7" fill="rgba(120,185,205,0.38)"/>
<path d="M135.8,43V651.7H739.7" fill="none" stroke="#333" stroke-width="2" stroke-linecap="square"/>
<line x1="163.1" y1="651.7" x2="163.1" y2="657.2" stroke="#333" stroke-width="2.3"/>
<text x="163.1" y="684.5" text-anchor="middle" font-size="33" fill="#4D4D4D" style='font-family:"Liberation Sans",Arial,Helvetica,sans-serif'>0</text>
<line x1="291.8" y1="651.7" x2="291.8" y2="657.2" stroke="#333" stroke-width="2.3"/>
<text x="291.8" y="684.5" text-anchor="middle" font-size="33" fill="#4D4D4D" style='font-family:"Liberation Sans",Arial,Helvetica,sans-serif'>1</text>
<line x1="420.5" y1="651.7" x2="420.5" y2="657.2" stroke="#333" stroke-width="2.3"/>
<text x="420.5" y="684.5" text-anchor="middle" font-size="33" fill="#4D4D4D" style='font-family:"Liberation Sans",Arial,Helvetica,sans-serif'>2</text>
<line x1="549.2" y1="651.7" x2="549.2" y2="657.2" stroke="#333" stroke-width="2.3"/>
<text x="549.2" y="684.5" text-anchor="middle" font-size="33" fill="#4D4D4D" style='font-family:"Liberation Sans",Arial,Helvetica,sans-serif'>3</text>
<line x1="677.9" y1="651.7" x2="677.9" y2="657.2" stroke="#333" stroke-width="2.3"/>
<text x="677.9" y="684.5" text-anchor="middle" font-size="33" fill="#4D4D4D" style='font-family:"Liberation Sans",Arial,Helvetica,sans-serif'>4</text>
<line x1="130.3" y1="563.5" x2="135.8" y2="563.5" stroke="#333" stroke-width="2.3"/>
<text x="124.5" y="572.1" text-anchor="end" font-size="33" fill="#4D4D4D" style='font-family:"Liberation Sans",Arial,Helvetica,sans-serif'>5</text>
<line x1="130.3" y1="395.9" x2="135.8" y2="395.9" stroke="#333" stroke-width="2.3"/>
<text x="130.5" y="404.5" text-anchor="end" font-size="33" fill="#4D4D4D" style='font-family:"Liberation Sans",Arial,Helvetica,sans-serif'>10</text>
<line x1="130.3" y1="228.3" x2="135.8" y2="228.3" stroke="#333" stroke-width="2.3"/>
<text x="130.5" y="236.9" text-anchor="end" font-size="33" fill="#4D4D4D" style='font-family:"Liberation Sans",Arial,Helvetica,sans-serif'>15</text>
<line x1="130.3" y1="60.7" x2="135.8" y2="60.7" stroke="#333" stroke-width="2.3"/>
<text x="130.5" y="69.3" text-anchor="end" font-size="33" fill="#4D4D4D" style='font-family:"Liberation Sans",Arial,Helvetica,sans-serif'>20</text>
<polygon points="958.0,428.9 967.3,428.2 976.6,427.5 986.0,426.8 995.3,426.1 1004.6,425.4 1013.9,424.7 1023.3,423.9 1032.6,423.2 1041.9,422.5 1051.2,421.8 1060.6,421.0 1069.9,420.3 1079.2,419.5 1088.5,418.8 1097.9,418.1 1107.2,417.3 1116.5,416.5 1125.8,415.8 1135.2,415.0 1144.5,414.3 1153.8,413.5 1163.1,412.7 1172.4,411.9 1181.8,411.2 1191.1,410.4 1200.4,409.6 1209.7,408.8 1219.1,408.0 1228.4,407.2 1237.7,406.4 1247.0,405.6 1256.4,404.8 1265.7,404.0 1275.0,403.2 1284.3,402.4 1293.7,401.5 1303.0,400.7 1312.3,399.9 1321.6,399.1 1330.9,398.2 1340.3,397.4 1349.6,396.6 1358.9,395.7 1368.2,394.9 1377.6,394.0 1386.9,393.2 1396.2,392.3 1405.5,391.4 1414.9,390.6 1424.2,389.7 1433.5,388.8 1442.8,388.0 1452.2,387.1 1461.5,386.2 1470.8,385.3 1480.1,384.5 1489.5,383.6 1498.8,382.7 1508.1,381.8 1508.1,464.8 1498.8,465.4 1489.5,466.0 1480.1,466.6 1470.8,467.2 1461.5,467.8 1452.2,468.5 1442.8,469.1 1433.5,469.7 1424.2,470.3 1414.9,471.0 1405.5,471.6 1396.2,472.2 1386.9,472.9 1377.6,473.5 1368.2,474.2 1358.9,474.8 1349.6,475.5 1340.3,476.1 1330.9,476.8 1321.6,477.4 1312.3,478.1 1303.0,478.8 1293.7,479.4 1284.3,480.1 1275.0,480.8 1265.7,481.5 1256.4,482.2 1247.0,482.8 1237.7,483.5 1228.4,484.2 1219.1,484.9 1209.7,485.6 1200.4,486.3 1191.1,487.0 1181.8,487.8 1172.4,488.5 1163.1,489.2 1153.8,489.9 1144.5,490.6 1135.2,491.4 1125.8,492.1 1116.5,492.8 1107.2,493.6 1097.9,494.3 1088.5,495.1 1079.2,495.8 1069.9,496.6 1060.6,497.3 1051.2,498.1 1041.9,498.9 1032.6,499.6 1023.3,500.4 1013.9,501.2 1004.6,502.0 995.3,502.7 986.0,503.5 976.6,504.3 967.3,505.1 958.0,505.9" fill="rgba(249,183,23,0.18)"/>
<polygon points="958.0,441.1 967.3,439.6 976.6,438.1 986.0,436.6 995.3,435.1 1004.6,433.5 1013.9,432.0 1023.3,430.4 1032.6,428.8 1041.9,427.2 1051.2,425.6 1060.6,424.0 1069.9,422.4 1079.2,420.8 1088.5,419.1 1097.9,417.5 1107.2,415.8 1116.5,414.1 1125.8,412.4 1135.2,410.7 1144.5,408.9 1153.8,407.2 1163.1,405.4 1172.4,403.6 1181.8,401.8 1191.1,400.0 1200.4,398.2 1209.7,396.4 1219.1,394.6 1228.4,392.7 1237.7,390.8 1247.0,389.0 1256.4,387.1 1265.7,385.2 1275.0,383.3 1284.3,381.3 1293.7,379.4 1303.0,377.4 1312.3,375.5 1321.6,373.5 1330.9,371.5 1340.3,369.5 1349.6,367.5 1358.9,365.5 1368.2,363.5 1377.6,361.4 1386.9,359.4 1396.2,357.3 1405.5,355.3 1414.9,353.2 1424.2,351.1 1433.5,349.0 1442.8,346.9 1452.2,344.8 1461.5,342.7 1470.8,340.6 1480.1,338.4 1489.5,336.3 1498.8,334.1 1508.1,332.0 1508.1,428.0 1498.8,429.3 1489.5,430.6 1480.1,431.9 1470.8,433.2 1461.5,434.5 1452.2,435.8 1442.8,437.1 1433.5,438.5 1424.2,439.8 1414.9,441.2 1405.5,442.5 1396.2,443.9 1386.9,445.3 1377.6,446.7 1368.2,448.1 1358.9,449.5 1349.6,450.9 1340.3,452.4 1330.9,453.8 1321.6,455.2 1312.3,456.7 1303.0,458.2 1293.7,459.7 1284.3,461.2 1275.0,462.7 1265.7,464.2 1256.4,465.7 1247.0,467.3 1237.7,468.8 1228.4,470.4 1219.1,472.0 1209.7,473.6 1200.4,475.2 1191.1,476.8 1181.8,478.5 1172.4,480.1 1163.1,481.8 1153.8,483.4 1144.5,485.1 1135.2,486.8 1125.8,488.6 1116.5,490.3 1107.2,492.0 1097.9,493.8 1088.5,495.6 1079.2,497.3 1069.9,499.1 1060.6,501.0 1051.2,502.8 1041.9,504.6 1032.6,506.5 1023.3,508.3 1013.9,510.2 1004.6,512.1 995.3,514.0 986.0,515.9 976.6,517.8 967.3,519.8 958.0,521.7" fill="rgba(112,190,200,0.2)"/>
<line x1="958.0" y1="467.4" x2="1508.1" y2="423.3" stroke="#E9B730" stroke-width="5"/>
<line x1="958.0" y1="481.4" x2="1508.1" y2="380.0" stroke="#7CBCB0" stroke-width="5" stroke-dasharray="22 9.6"/>
<circle cx="1047.8" cy="293.0" r="3.7" fill="rgba(249,183,23,0.45)"/>
<circle cx="1076.5" cy="305.7" r="3.7" fill="rgba(249,183,23,0.45)"/>
<circle cx="1170.5" cy="305.7" r="3.7" fill="rgba(249,183,23,0.45)"/>
<circle cx="1387.4" cy="261.3" r="3.7" fill="rgba(249,183,23,0.45)"/>
<circle cx="1348.0" cy="289.7" r="3.7" fill="rgba(249,183,23,0.45)"/>
<circle cx="1348.0" cy="309.6" r="3.7" fill="rgba(249,183,23,0.45)"/>
<circle cx="1029.8" cy="335.0" r="3.7" fill="rgba(249,183,23,0.45)"/>
<circle cx="964.3" cy="359.4" r="3.7" fill="rgba(249,183,23,0.45)"/>
<circle cx="970.2" cy="366.6" r="3.7" fill="rgba(249,183,23,0.45)"/>
<circle cx="964.3" cy="380.9" r="3.7" fill="rgba(249,183,23,0.45)"/>
<circle cx="970.2" cy="384.2" r="3.7" fill="rgba(249,183,23,0.45)"/>
<circle cx="1076.1" cy="347.7" r="3.7" fill="rgba(249,183,23,0.45)"/>
<circle cx="1076.1" cy="352.5" r="3.7" fill="rgba(249,183,23,0.45)"/>
<circle cx="1076.1" cy="367.2" r="3.7" fill="rgba(249,183,23,0.45)"/>
<circle cx="1125.6" cy="347.1" r="3.7" fill="rgba(249,183,23,0.45)"/>
<circle cx="1125.6" cy="365.2" r="3.7" fill="rgba(249,183,23,0.45)"/>
<circle cx="1047.4" cy="395.1" r="3.7" fill="rgba(249,183,23,0.45)"/>
<circle cx="1029.4" cy="400.4" r="3.7" fill="rgba(249,183,23,0.45)"/>
<circle cx="1029.4" cy="409.8" r="3.7" fill="rgba(249,183,23,0.45)"/>
<circle cx="1047.4" cy="411.2" r="3.7" fill="rgba(249,183,23,0.45)"/>
<circle cx="1047.4" cy="418.0" r="3.7" fill="rgba(249,183,23,0.45)"/>
<circle cx="1047.4" cy="425.8" r="3.7" fill="rgba(249,183,23,0.45)"/>
<circle cx="1047.4" cy="434.2" r="3.7" fill="rgba(249,183,23,0.45)"/>
<circle cx="1097.2" cy="393.6" r="3.7" fill="rgba(249,183,23,0.45)"/>
<circle cx="1097.2" cy="399.4" r="3.7" fill="rgba(249,183,23,0.45)"/>
<circle cx="1097.2" cy="406.9" r="3.7" fill="rgba(249,183,23,0.45)"/>
<circle cx="1097.2" cy="426.4" r="3.7" fill="rgba(249,183,23,0.45)"/>
<circle cx="1115.8" cy="418.6" r="3.7" fill="rgba(249,183,23,0.45)"/>
<circle cx="1115.8" cy="433.7" r="3.7" fill="rgba(249,183,23,0.45)"/>
<circle cx="963.9" cy="440.5" r="3.7" fill="rgba(249,183,23,0.45)"/>
<circle cx="976.0" cy="440.5" r="3.7" fill="rgba(249,183,23,0.45)"/>
<circle cx="963.9" cy="458.1" r="3.7" fill="rgba(249,183,23,0.45)"/>
<circle cx="970.2" cy="463.0" r="3.7" fill="rgba(249,183,23,0.45)"/>
<circle cx="1029.4" cy="443.4" r="3.7" fill="rgba(249,183,23,0.45)"/>
<circle cx="1029.4" cy="453.2" r="3.7" fill="rgba(249,183,23,0.45)"/>
<circle cx="1076.7" cy="440.5" r="3.7" fill="rgba(249,183,23,0.45)"/>
<circle cx="1115.8" cy="465.9" r="3.7" fill="rgba(249,183,23,0.45)"/>
<circle cx="1125.6" cy="460.0" r="3.7" fill="rgba(249,183,23,0.45)"/>
<circle cx="1125.6" cy="463.9" r="3.7" fill="rgba(249,183,23,0.45)"/>
<circle cx="1152.9" cy="473.3" r="3.7" fill="rgba(249,183,23,0.45)"/>
<circle cx="1082.6" cy="473.3" r="3.7" fill="rgba(249,183,23,0.45)"/>
<circle cx="1046.4" cy="467.9" r="3.7" fill="rgba(249,183,23,0.45)"/>
<circle cx="1234.0" cy="370.1" r="3.7" fill="rgba(249,183,23,0.45)"/>
<circle cx="1234.0" cy="380.9" r="3.7" fill="rgba(249,183,23,0.45)"/>
<circle cx="1267.2" cy="342.8" r="3.7" fill="rgba(249,183,23,0.45)"/>
<circle cx="1267.2" cy="361.3" r="3.7" fill="rgba(249,183,23,0.45)"/>
<circle cx="1267.2" cy="370.1" r="3.7" fill="rgba(249,183,23,0.45)"/>
<circle cx="1237.9" cy="369.2" r="3.7" fill="rgba(249,183,23,0.45)"/>
<circle cx="1237.9" cy="375.0" r="3.7" fill="rgba(249,183,23,0.45)"/>
<circle cx="1237.9" cy="381.5" r="3.7" fill="rgba(249,183,23,0.45)"/>
<circle cx="1312.2" cy="356.8" r="3.7" fill="rgba(249,183,23,0.45)"/>
<circle cx="1312.2" cy="371.1" r="3.7" fill="rgba(249,183,23,0.45)"/>
<circle cx="1337.0" cy="356.1" r="3.7" fill="rgba(249,183,23,0.45)"/>
<circle cx="1348.0" cy="365.2" r="3.7" fill="rgba(249,183,23,0.45)"/>
<circle cx="1348.0" cy="377.6" r="3.7" fill="rgba(249,183,23,0.45)"/>
<circle cx="1348.0" cy="398.5" r="3.7" fill="rgba(249,183,23,0.45)"/>
<circle cx="1348.0" cy="403.7" r="3.7" fill="rgba(249,183,23,0.45)"/>
<circle cx="1337.0" cy="413.1" r="3.7" fill="rgba(249,183,23,0.45)"/>
<circle cx="1312.2" cy="418.0" r="3.7" fill="rgba(249,183,23,0.45)"/>
<circle cx="1387.1" cy="352.5" r="3.7" fill="rgba(249,183,23,0.45)"/>
<circle cx="1387.1" cy="358.4" r="3.7" fill="rgba(249,183,23,0.45)"/>
<circle cx="1507.6" cy="349.6" r="3.7" fill="rgba(249,183,23,0.45)"/>
<circle cx="1507.6" cy="364.3" r="3.7" fill="rgba(249,183,23,0.45)"/>
<circle cx="1507.6" cy="369.2" r="3.7" fill="rgba(249,183,23,0.45)"/>
<circle cx="1507.6" cy="378.0" r="3.7" fill="rgba(249,183,23,0.45)"/>
<circle cx="1507.6" cy="383.4" r="3.7" fill="rgba(249,183,23,0.45)"/>
<circle cx="1500.8" cy="390.1" r="3.7" fill="rgba(249,183,23,0.45)"/>
<circle cx="1500.8" cy="405.3" r="3.7" fill="rgba(249,183,23,0.45)"/>
<circle cx="1507.6" cy="411.2" r="3.7" fill="rgba(249,183,23,0.45)"/>
<circle cx="1500.8" cy="434.6" r="3.7" fill="rgba(249,183,23,0.45)"/>
<circle cx="1460.1" cy="432.7" r="3.7" fill="rgba(249,183,23,0.45)"/>
<circle cx="1460.1" cy="448.7" r="3.7" fill="rgba(249,183,23,0.45)"/>
<circle cx="1460.1" cy="458.1" r="3.7" fill="rgba(249,183,23,0.45)"/>
<circle cx="1460.1" cy="463.6" r="3.7" fill="rgba(249,183,23,0.45)"/>
<circle cx="1348.0" cy="447.3" r="3.7" fill="rgba(249,183,23,0.45)"/>
<circle cx="1387.1" cy="447.3" r="3.7" fill="rgba(249,183,23,0.45)"/>
<circle cx="1376.1" cy="454.2" r="3.7" fill="rgba(249,183,23,0.45)"/>
<circle cx="1387.1" cy="460.0" r="3.7" fill="rgba(249,183,23,0.45)"/>
<circle cx="1376.1" cy="467.9" r="3.7" fill="rgba(249,183,23,0.45)"/>
<circle cx="1376.1" cy="471.8" r="3.7" fill="rgba(249,183,23,0.45)"/>
<circle cx="1289.3" cy="459.6" r="3.7" fill="rgba(249,183,23,0.45)"/>
<circle cx="1237.9" cy="448.3" r="3.7" fill="rgba(249,183,23,0.45)"/>
<circle cx="1237.9" cy="463.9" r="3.7" fill="rgba(249,183,23,0.45)"/>
<circle cx="1237.9" cy="471.8" r="3.7" fill="rgba(249,183,23,0.45)"/>
<circle cx="1507.6" cy="446.4" r="3.7" fill="rgba(249,183,23,0.45)"/>
<circle cx="1507.6" cy="455.1" r="3.7" fill="rgba(249,183,23,0.45)"/>
<circle cx="1507.6" cy="458.1" r="3.7" fill="rgba(249,183,23,0.45)"/>
<circle cx="1507.6" cy="468.8" r="3.7" fill="rgba(249,183,23,0.45)"/>
<circle cx="1507.6" cy="473.7" r="3.7" fill="rgba(249,183,23,0.45)"/>
<circle cx="1387.1" cy="476.6" r="3.7" fill="rgba(249,183,23,0.45)"/>
<circle cx="1029.8" cy="479.0" r="3.7" fill="rgba(249,183,23,0.45)"/>
<circle cx="976.0" cy="487.7" r="3.7" fill="rgba(249,183,23,0.45)"/>
<circle cx="979.6" cy="491.7" r="3.7" fill="rgba(249,183,23,0.45)"/>
<circle cx="958.5" cy="496.0" r="3.7" fill="rgba(249,183,23,0.45)"/>
<circle cx="970.2" cy="496.0" r="3.7" fill="rgba(249,183,23,0.45)"/>
<circle cx="969.8" cy="506.3" r="3.7" fill="rgba(249,183,23,0.45)"/>
<circle cx="969.8" cy="513.2" r="3.7" fill="rgba(249,183,23,0.45)"/>
<circle cx="979.0" cy="513.2" r="3.7" fill="rgba(249,183,23,0.45)"/>
<circle cx="979.0" cy="517.1" r="3.7" fill="rgba(249,183,23,0.45)"/>
<circle cx="963.9" cy="525.5" r="3.7" fill="rgba(249,183,23,0.45)"/>
<circle cx="969.8" cy="528.8" r="3.7" fill="rgba(249,183,23,0.45)"/>
<circle cx="979.0" cy="527.4" r="3.7" fill="rgba(249,183,23,0.45)"/>
<circle cx="969.8" cy="533.7" r="3.7" fill="rgba(249,183,23,0.45)"/>
<circle cx="979.0" cy="529.8" r="3.7" fill="rgba(249,183,23,0.45)"/>
<circle cx="958.5" cy="538.0" r="3.7" fill="rgba(249,183,23,0.45)"/>
<circle cx="976.0" cy="538.0" r="3.7" fill="rgba(249,183,23,0.45)"/>
<circle cx="969.8" cy="544.4" r="3.7" fill="rgba(249,183,23,0.45)"/>
<circle cx="979.0" cy="552.2" r="3.7" fill="rgba(249,183,23,0.45)"/>
<circle cx="979.0" cy="561.0" r="3.7" fill="rgba(249,183,23,0.45)"/>
<circle cx="996.2" cy="534.7" r="3.7" fill="rgba(249,183,23,0.45)"/>
<circle cx="996.2" cy="557.1" r="3.7" fill="rgba(249,183,23,0.45)"/>
<circle cx="1029.8" cy="492.6" r="3.7" fill="rgba(249,183,23,0.45)"/>
<circle cx="1029.8" cy="503.4" r="3.7" fill="rgba(249,183,23,0.45)"/>
<circle cx="1029.8" cy="516.1" r="3.7" fill="rgba(249,183,23,0.45)"/>
<circle cx="1029.8" cy="525.5" r="3.7" fill="rgba(249,183,23,0.45)"/>
<circle cx="1029.8" cy="532.7" r="3.7" fill="rgba(249,183,23,0.45)"/>
<circle cx="1047.4" cy="497.5" r="3.7" fill="rgba(249,183,23,0.45)"/>
<circle cx="1045.4" cy="511.2" r="3.7" fill="rgba(249,183,23,0.45)"/>
<circle cx="1047.4" cy="539.1" r="3.7" fill="rgba(249,183,23,0.45)"/>
<circle cx="1045.4" cy="547.7" r="3.7" fill="rgba(249,183,23,0.45)"/>
<circle cx="1045.4" cy="559.1" r="3.7" fill="rgba(249,183,23,0.45)"/>
<circle cx="1059.1" cy="528.8" r="3.7" fill="rgba(249,183,23,0.45)"/>
<circle cx="1059.1" cy="533.7" r="3.7" fill="rgba(249,183,23,0.45)"/>
<circle cx="1059.1" cy="563.0" r="3.7" fill="rgba(249,183,23,0.45)"/>
<circle cx="1082.0" cy="511.2" r="3.7" fill="rgba(249,183,23,0.45)"/>
<circle cx="1082.0" cy="564.9" r="3.7" fill="rgba(249,183,23,0.45)"/>
<circle cx="1097.2" cy="481.9" r="3.7" fill="rgba(249,183,23,0.45)"/>
<circle cx="1125.6" cy="481.3" r="3.7" fill="rgba(249,183,23,0.45)"/>
<circle cx="1115.8" cy="520.4" r="3.7" fill="rgba(249,183,23,0.45)"/>
<circle cx="1115.8" cy="528.2" r="3.7" fill="rgba(249,183,23,0.45)"/>
<circle cx="1115.8" cy="545.8" r="3.7" fill="rgba(249,183,23,0.45)"/>
<circle cx="1165.6" cy="491.7" r="3.7" fill="rgba(249,183,23,0.45)"/>
<circle cx="1165.6" cy="499.5" r="3.7" fill="rgba(249,183,23,0.45)"/>
<circle cx="1152.9" cy="510.2" r="3.7" fill="rgba(249,183,23,0.45)"/>
<circle cx="1152.9" cy="516.1" r="3.7" fill="rgba(249,183,23,0.45)"/>
<circle cx="1165.6" cy="520.4" r="3.7" fill="rgba(249,183,23,0.45)"/>
<circle cx="1165.6" cy="553.2" r="3.7" fill="rgba(249,183,23,0.45)"/>
<circle cx="1165.6" cy="567.9" r="3.7" fill="rgba(249,183,23,0.45)"/>
<circle cx="1203.7" cy="503.0" r="3.7" fill="rgba(249,183,23,0.45)"/>
<circle cx="1203.7" cy="544.8" r="3.7" fill="rgba(249,183,23,0.45)"/>
<circle cx="969.8" cy="572.8" r="3.7" fill="rgba(249,183,23,0.45)"/>
<circle cx="969.8" cy="577.7" r="3.7" fill="rgba(249,183,23,0.45)"/>
<circle cx="963.9" cy="579.6" r="3.7" fill="rgba(249,183,23,0.45)"/>
<circle cx="963.9" cy="593.3" r="3.7" fill="rgba(249,183,23,0.45)"/>
<circle cx="969.8" cy="593.3" r="3.7" fill="rgba(249,183,23,0.45)"/>
<circle cx="1010.2" cy="584.5" r="3.7" fill="rgba(249,183,23,0.45)"/>
<circle cx="1010.2" cy="598.2" r="3.7" fill="rgba(249,183,23,0.45)"/>
<circle cx="1010.2" cy="602.1" r="3.7" fill="rgba(249,183,23,0.45)"/>
<circle cx="1010.2" cy="605.0" r="3.7" fill="rgba(249,183,23,0.45)"/>
<circle cx="1045.4" cy="588.0" r="3.7" fill="rgba(249,183,23,0.45)"/>
<circle cx="1045.4" cy="607.6" r="3.7" fill="rgba(249,183,23,0.45)"/>
<circle cx="975.7" cy="617.7" r="3.7" fill="rgba(249,183,23,0.45)"/>
<circle cx="1375.7" cy="482.5" r="3.7" fill="rgba(249,183,23,0.45)"/>
<circle cx="1387.1" cy="479.9" r="3.7" fill="rgba(249,183,23,0.45)"/>
<circle cx="1387.1" cy="485.8" r="3.7" fill="rgba(249,183,23,0.45)"/>
<circle cx="1348.0" cy="491.7" r="3.7" fill="rgba(249,183,23,0.45)"/>
<circle cx="1289.3" cy="496.5" r="3.7" fill="rgba(249,183,23,0.45)"/>
<circle cx="1289.3" cy="500.8" r="3.7" fill="rgba(249,183,23,0.45)"/>
<circle cx="1289.3" cy="512.2" r="3.7" fill="rgba(249,183,23,0.45)"/>
<circle cx="1289.3" cy="534.1" r="3.7" fill="rgba(249,183,23,0.45)"/>
<circle cx="1289.3" cy="547.0" r="3.7" fill="rgba(249,183,23,0.45)"/>
<circle cx="1375.7" cy="512.8" r="3.7" fill="rgba(249,183,23,0.45)"/>
<circle cx="1375.3" cy="528.2" r="3.7" fill="rgba(249,183,23,0.45)"/>
<circle cx="1375.3" cy="531.3" r="3.7" fill="rgba(249,183,23,0.45)"/>
<circle cx="1460.1" cy="496.0" r="3.7" fill="rgba(249,183,23,0.45)"/>
<circle cx="1460.1" cy="513.2" r="3.7" fill="rgba(249,183,23,0.45)"/>
<circle cx="1460.1" cy="521.6" r="3.7" fill="rgba(249,183,23,0.45)"/>
<circle cx="1460.1" cy="533.3" r="3.7" fill="rgba(249,183,23,0.45)"/>
<circle cx="1507.6" cy="479.0" r="3.7" fill="rgba(249,183,23,0.45)"/>
<circle cx="1507.6" cy="484.8" r="3.7" fill="rgba(249,183,23,0.45)"/>
<circle cx="1507.6" cy="493.6" r="3.7" fill="rgba(249,183,23,0.45)"/>
<circle cx="1507.6" cy="501.4" r="3.7" fill="rgba(249,183,23,0.45)"/>
<circle cx="1507.6" cy="509.2" r="3.7" fill="rgba(249,183,23,0.45)"/>
<circle cx="1507.6" cy="516.1" r="3.7" fill="rgba(249,183,23,0.45)"/>
<circle cx="1507.6" cy="523.9" r="3.7" fill="rgba(249,183,23,0.45)"/>
<circle cx="1507.6" cy="539.9" r="3.7" fill="rgba(249,183,23,0.45)"/>
<circle cx="1500.8" cy="555.2" r="3.7" fill="rgba(249,183,23,0.45)"/>
<circle cx="1507.6" cy="563.0" r="3.7" fill="rgba(249,183,23,0.45)"/>
<circle cx="1239.9" cy="568.3" r="3.7" fill="rgba(249,183,23,0.45)"/>
<circle cx="1239.9" cy="604.6" r="3.7" fill="rgba(249,183,23,0.45)"/>
<circle cx="1289.3" cy="602.7" r="3.7" fill="rgba(249,183,23,0.45)"/>
<circle cx="1375.7" cy="600.7" r="3.7" fill="rgba(249,183,23,0.45)"/>
<circle cx="1059.3" cy="625.7" r="3.7" fill="rgba(249,183,23,0.45)"/>
<circle cx="1022.0" cy="261.3" r="3.7" fill="rgba(120,185,205,0.38)"/>
<circle cx="969.8" cy="305.7" r="3.7" fill="rgba(120,185,205,0.38)"/>
<circle cx="1071.2" cy="301.4" r="3.7" fill="rgba(120,185,205,0.38)"/>
<circle cx="1124.6" cy="289.5" r="3.7" fill="rgba(120,185,205,0.38)"/>
<circle cx="1145.3" cy="293.0" r="3.7" fill="rgba(120,185,205,0.38)"/>
<circle cx="1124.6" cy="309.6" r="3.7" fill="rgba(120,185,205,0.38)"/>
<circle cx="1267.8" cy="305.7" r="3.7" fill="rgba(120,185,205,0.38)"/>
<circle cx="1378.6" cy="319.4" r="3.7" fill="rgba(120,185,205,0.38)"/>
<circle cx="970.2" cy="366.6" r="3.7" fill="rgba(120,185,205,0.38)"/>
<circle cx="1125.6" cy="365.2" r="3.7" fill="rgba(120,185,205,0.38)"/>
<circle cx="997.1" cy="335.0" r="3.7" fill="rgba(120,185,205,0.38)"/>
<circle cx="1036.6" cy="343.7" r="3.7" fill="rgba(120,185,205,0.38)"/>
<circle cx="969.8" cy="347.7" r="3.7" fill="rgba(120,185,205,0.38)"/>
<circle cx="969.8" cy="352.5" r="3.7" fill="rgba(120,185,205,0.38)"/>
<circle cx="991.3" cy="347.1" r="3.7" fill="rgba(120,185,205,0.38)"/>
<circle cx="1010.8" cy="356.8" r="3.7" fill="rgba(120,185,205,0.38)"/>
<circle cx="1021.4" cy="352.2" r="3.7" fill="rgba(120,185,205,0.38)"/>
<circle cx="1021.4" cy="359.0" r="3.7" fill="rgba(120,185,205,0.38)"/>
<circle cx="991.3" cy="365.8" r="3.7" fill="rgba(120,185,205,0.38)"/>
<circle cx="1010.8" cy="371.1" r="3.7" fill="rgba(120,185,205,0.38)"/>
<circle cx="1027.8" cy="369.2" r="3.7" fill="rgba(120,185,205,0.38)"/>
<circle cx="1027.8" cy="375.0" r="3.7" fill="rgba(120,185,205,0.38)"/>
<circle cx="1027.8" cy="381.9" r="3.7" fill="rgba(120,185,205,0.38)"/>
<circle cx="1036.2" cy="382.8" r="3.7" fill="rgba(120,185,205,0.38)"/>
<circle cx="1090.4" cy="356.1" r="3.7" fill="rgba(120,185,205,0.38)"/>
<circle cx="1125.6" cy="377.0" r="3.7" fill="rgba(120,185,205,0.38)"/>
<circle cx="1121.6" cy="383.8" r="3.7" fill="rgba(120,185,205,0.38)"/>
<circle cx="1155.8" cy="359.0" r="3.7" fill="rgba(120,185,205,0.38)"/>
<circle cx="1155.8" cy="380.9" r="3.7" fill="rgba(120,185,205,0.38)"/>
<circle cx="997.1" cy="400.8" r="3.7" fill="rgba(120,185,205,0.38)"/>
<circle cx="997.1" cy="409.8" r="3.7" fill="rgba(120,185,205,0.38)"/>
<circle cx="976.4" cy="408.2" r="3.7" fill="rgba(120,185,205,0.38)"/>
<circle cx="976.4" cy="413.5" r="3.7" fill="rgba(120,185,205,0.38)"/>
<circle cx="1010.8" cy="418.6" r="3.7" fill="rgba(120,185,205,0.38)"/>
<circle cx="1087.1" cy="394.6" r="3.7" fill="rgba(120,185,205,0.38)"/>
<circle cx="1087.1" cy="399.4" r="3.7" fill="rgba(120,185,205,0.38)"/>
<circle cx="1087.1" cy="407.3" r="3.7" fill="rgba(120,185,205,0.38)"/>
<circle cx="1090.4" cy="413.1" r="3.7" fill="rgba(120,185,205,0.38)"/>
<circle cx="1124.6" cy="398.5" r="3.7" fill="rgba(120,185,205,0.38)"/>
<circle cx="1124.6" cy="404.9" r="3.7" fill="rgba(120,185,205,0.38)"/>
<circle cx="1132.4" cy="409.8" r="3.7" fill="rgba(120,185,205,0.38)"/>
<circle cx="1053.2" cy="419.0" r="3.7" fill="rgba(120,185,205,0.38)"/>
<circle cx="1057.1" cy="422.9" r="3.7" fill="rgba(120,185,205,0.38)"/>
<circle cx="1087.1" cy="426.4" r="3.7" fill="rgba(120,185,205,0.38)"/>
<circle cx="1139.8" cy="430.7" r="3.7" fill="rgba(120,185,205,0.38)"/>
<circle cx="1225.2" cy="389.7" r="3.7" fill="rgba(120,185,205,0.38)"/>
<circle cx="1225.2" cy="405.3" r="3.7" fill="rgba(120,185,205,0.38)"/>
<circle cx="976.6" cy="433.7" r="3.7" fill="rgba(120,185,205,0.38)"/>
<circle cx="969.8" cy="440.5" r="3.7" fill="rgba(120,185,205,0.38)"/>
<circle cx="967.8" cy="450.3" r="3.7" fill="rgba(120,185,205,0.38)"/>
<circle cx="976.6" cy="449.9" r="3.7" fill="rgba(120,185,205,0.38)"/>
<circle cx="997.1" cy="443.4" r="3.7" fill="rgba(120,185,205,0.38)"/>
<circle cx="1036.6" cy="437.6" r="3.7" fill="rgba(120,185,205,0.38)"/>
<circle cx="1026.9" cy="446.4" r="3.7" fill="rgba(120,185,205,0.38)"/>
<circle cx="995.6" cy="453.2" r="3.7" fill="rgba(120,185,205,0.38)"/>
<circle cx="991.7" cy="458.1" r="3.7" fill="rgba(120,185,205,0.38)"/>
<circle cx="977.0" cy="462.0" r="3.7" fill="rgba(120,185,205,0.38)"/>
<circle cx="1053.2" cy="434.2" r="3.7" fill="rgba(120,185,205,0.38)"/>
<circle cx="1057.1" cy="434.2" r="3.7" fill="rgba(120,185,205,0.38)"/>
<circle cx="1057.1" cy="447.3" r="3.7" fill="rgba(120,185,205,0.38)"/>
<circle cx="1053.2" cy="452.2" r="3.7" fill="rgba(120,185,205,0.38)"/>
<circle cx="1060.1" cy="452.2" r="3.7" fill="rgba(120,185,205,0.38)"/>
<circle cx="1036.6" cy="455.1" r="3.7" fill="rgba(120,185,205,0.38)"/>
<circle cx="1040.5" cy="455.1" r="3.7" fill="rgba(120,185,205,0.38)"/>
<circle cx="1070.8" cy="439.5" r="3.7" fill="rgba(120,185,205,0.38)"/>
<circle cx="1070.8" cy="444.4" r="3.7" fill="rgba(120,185,205,0.38)"/>
<circle cx="1056.2" cy="463.0" r="3.7" fill="rgba(120,185,205,0.38)"/>
<circle cx="1061.1" cy="463.0" r="3.7" fill="rgba(120,185,205,0.38)"/>
<circle cx="1052.3" cy="465.9" r="3.7" fill="rgba(120,185,205,0.38)"/>
<circle cx="1069.9" cy="467.9" r="3.7" fill="rgba(120,185,205,0.38)"/>
<circle cx="1155.8" cy="439.5" r="3.7" fill="rgba(120,185,205,0.38)"/>
<circle cx="1124.6" cy="446.4" r="3.7" fill="rgba(120,185,205,0.38)"/>
<circle cx="1155.8" cy="458.1" r="3.7" fill="rgba(120,185,205,0.38)"/>
<circle cx="1145.1" cy="466.9" r="3.7" fill="rgba(120,185,205,0.38)"/>
<circle cx="977.0" cy="475.7" r="3.7" fill="rgba(120,185,205,0.38)"/>
<circle cx="1060.1" cy="475.7" r="3.7" fill="rgba(120,185,205,0.38)"/>
<circle cx="1258.1" cy="342.8" r="3.7" fill="rgba(120,185,205,0.38)"/>
<circle cx="1258.1" cy="361.3" r="3.7" fill="rgba(120,185,205,0.38)"/>
<circle cx="1258.1" cy="370.1" r="3.7" fill="rgba(120,185,205,0.38)"/>
<circle cx="1378.6" cy="339.3" r="3.7" fill="rgba(120,185,205,0.38)"/>
<circle cx="1378.6" cy="356.1" r="3.7" fill="rgba(120,185,205,0.38)"/>
<circle cx="1378.6" cy="371.7" r="3.7" fill="rgba(120,185,205,0.38)"/>
<circle cx="1418.3" cy="349.6" r="3.7" fill="rgba(120,185,205,0.38)"/>
<circle cx="1418.3" cy="365.2" r="3.7" fill="rgba(120,185,205,0.38)"/>
<circle cx="1418.3" cy="371.1" r="3.7" fill="rgba(120,185,205,0.38)"/>
<circle cx="1418.3" cy="377.0" r="3.7" fill="rgba(120,185,205,0.38)"/>
<circle cx="1418.3" cy="383.4" r="3.7" fill="rgba(120,185,205,0.38)"/>
<circle cx="1310.2" cy="395.1" r="3.7" fill="rgba(120,185,205,0.38)"/>
<circle cx="1310.2" cy="411.2" r="3.7" fill="rgba(120,185,205,0.38)"/>
<circle cx="1310.2" cy="426.8" r="3.7" fill="rgba(120,185,205,0.38)"/>
<circle cx="1310.2" cy="433.7" r="3.7" fill="rgba(120,185,205,0.38)"/>
<circle cx="1365.9" cy="411.2" r="3.7" fill="rgba(120,185,205,0.38)"/>
<circle cx="1378.6" cy="427.8" r="3.7" fill="rgba(120,185,205,0.38)"/>
<circle cx="1378.6" cy="436.6" r="3.7" fill="rgba(120,185,205,0.38)"/>
<circle cx="1365.9" cy="446.0" r="3.7" fill="rgba(120,185,205,0.38)"/>
<circle cx="1365.9" cy="457.7" r="3.7" fill="rgba(120,185,205,0.38)"/>
<circle cx="1378.6" cy="453.2" r="3.7" fill="rgba(120,185,205,0.38)"/>
<circle cx="1378.6" cy="460.0" r="3.7" fill="rgba(120,185,205,0.38)"/>
<circle cx="1269.2" cy="460.0" r="3.7" fill="rgba(120,185,205,0.38)"/>
<circle cx="1310.2" cy="457.7" r="3.7" fill="rgba(120,185,205,0.38)"/>
<circle cx="1418.3" cy="468.8" r="3.7" fill="rgba(120,185,205,0.38)"/>
<circle cx="1418.3" cy="475.7" r="3.7" fill="rgba(120,185,205,0.38)"/>
<circle cx="1045.4" cy="559.1" r="3.7" fill="rgba(120,185,205,0.38)"/>
<circle cx="1045.4" cy="588.0" r="3.7" fill="rgba(120,185,205,0.38)"/>
<circle cx="1045.4" cy="607.6" r="3.7" fill="rgba(120,185,205,0.38)"/>
<circle cx="1059.1" cy="528.8" r="3.7" fill="rgba(120,185,205,0.38)"/>
<circle cx="1059.1" cy="533.7" r="3.7" fill="rgba(120,185,205,0.38)"/>
<circle cx="990.7" cy="481.9" r="3.7" fill="rgba(120,185,205,0.38)"/>
<circle cx="1016.1" cy="487.7" r="3.7" fill="rgba(120,185,205,0.38)"/>
<circle cx="1025.9" cy="479.0" r="3.7" fill="rgba(120,185,205,0.38)"/>
<circle cx="1025.9" cy="485.8" r="3.7" fill="rgba(120,185,205,0.38)"/>
<circle cx="1046.4" cy="479.9" r="3.7" fill="rgba(120,185,205,0.38)"/>
<circle cx="1056.2" cy="479.9" r="3.7" fill="rgba(120,185,205,0.38)"/>
<circle cx="1056.6" cy="485.8" r="3.7" fill="rgba(120,185,205,0.38)"/>
<circle cx="1056.2" cy="492.6" r="3.7" fill="rgba(120,185,205,0.38)"/>
<circle cx="1054.2" cy="499.5" r="3.7" fill="rgba(120,185,205,0.38)"/>
<circle cx="1035.7" cy="492.6" r="3.7" fill="rgba(120,185,205,0.38)"/>
<circle cx="1070.8" cy="491.7" r="3.7" fill="rgba(120,185,205,0.38)"/>
<circle cx="1086.5" cy="480.9" r="3.7" fill="rgba(120,185,205,0.38)"/>
<circle cx="1105.0" cy="479.9" r="3.7" fill="rgba(120,185,205,0.38)"/>
<circle cx="1105.0" cy="489.7" r="3.7" fill="rgba(120,185,205,0.38)"/>
<circle cx="1085.5" cy="496.5" r="3.7" fill="rgba(120,185,205,0.38)"/>
<circle cx="1125.0" cy="491.1" r="3.7" fill="rgba(120,185,205,0.38)"/>
<circle cx="1155.8" cy="480.9" r="3.7" fill="rgba(120,185,205,0.38)"/>
<circle cx="1155.8" cy="486.8" r="3.7" fill="rgba(120,185,205,0.38)"/>
<circle cx="1158.8" cy="491.1" r="3.7" fill="rgba(120,185,205,0.38)"/>
<circle cx="1139.2" cy="497.5" r="3.7" fill="rgba(120,185,205,0.38)"/>
<circle cx="1139.2" cy="502.8" r="3.7" fill="rgba(120,185,205,0.38)"/>
<circle cx="1173.8" cy="496.5" r="3.7" fill="rgba(120,185,205,0.38)"/>
<circle cx="967.2" cy="499.5" r="3.7" fill="rgba(120,185,205,0.38)"/>
<circle cx="977.0" cy="506.3" r="3.7" fill="rgba(120,185,205,0.38)"/>
<circle cx="996.6" cy="503.4" r="3.7" fill="rgba(120,185,205,0.38)"/>
<circle cx="993.6" cy="516.1" r="3.7" fill="rgba(120,185,205,0.38)"/>
<circle cx="996.6" cy="525.9" r="3.7" fill="rgba(120,185,205,0.38)"/>
<circle cx="1035.7" cy="513.2" r="3.7" fill="rgba(120,185,205,0.38)"/>
<circle cx="1052.3" cy="512.2" r="3.7" fill="rgba(120,185,205,0.38)"/>
<circle cx="1059.1" cy="508.3" r="3.7" fill="rgba(120,185,205,0.38)"/>
<circle cx="1060.1" cy="513.2" r="3.7" fill="rgba(120,185,205,0.38)"/>
<circle cx="1052.3" cy="519.0" r="3.7" fill="rgba(120,185,205,0.38)"/>
<circle cx="1053.2" cy="528.8" r="3.7" fill="rgba(120,185,205,0.38)"/>
<circle cx="1053.2" cy="531.7" r="3.7" fill="rgba(120,185,205,0.38)"/>
<circle cx="1105.0" cy="506.7" r="3.7" fill="rgba(120,185,205,0.38)"/>
<circle cx="1105.0" cy="521.0" r="3.7" fill="rgba(120,185,205,0.38)"/>
<circle cx="1121.6" cy="529.8" r="3.7" fill="rgba(120,185,205,0.38)"/>
<circle cx="1121.6" cy="535.6" r="3.7" fill="rgba(120,185,205,0.38)"/>
<circle cx="1155.8" cy="519.0" r="3.7" fill="rgba(120,185,205,0.38)"/>
<circle cx="1155.8" cy="526.3" r="3.7" fill="rgba(120,185,205,0.38)"/>
<circle cx="1154.9" cy="538.6" r="3.7" fill="rgba(120,185,205,0.38)"/>
<circle cx="1158.8" cy="538.6" r="3.7" fill="rgba(120,185,205,0.38)"/>
<circle cx="1139.2" cy="540.5" r="3.7" fill="rgba(120,185,205,0.38)"/>
<circle cx="1145.7" cy="539.1" r="3.7" fill="rgba(120,185,205,0.38)"/>
<circle cx="1173.8" cy="538.6" r="3.7" fill="rgba(120,185,205,0.38)"/>
<circle cx="1105.0" cy="544.0" r="3.7" fill="rgba(120,185,205,0.38)"/>
<circle cx="1105.0" cy="552.2" r="3.7" fill="rgba(120,185,205,0.38)"/>
<circle cx="1121.6" cy="544.4" r="3.7" fill="rgba(120,185,205,0.38)"/>
<circle cx="1157.8" cy="548.3" r="3.7" fill="rgba(120,185,205,0.38)"/>
<circle cx="1157.8" cy="554.2" r="3.7" fill="rgba(120,185,205,0.38)"/>
<circle cx="1035.7" cy="543.1" r="3.7" fill="rgba(120,185,205,0.38)"/>
<circle cx="1035.7" cy="551.3" r="3.7" fill="rgba(120,185,205,0.38)"/>
<circle cx="1033.7" cy="553.8" r="3.7" fill="rgba(120,185,205,0.38)"/>
<circle cx="1052.3" cy="545.4" r="3.7" fill="rgba(120,185,205,0.38)"/>
<circle cx="1060.1" cy="544.4" r="3.7" fill="rgba(120,185,205,0.38)"/>
<circle cx="1055.2" cy="552.2" r="3.7" fill="rgba(120,185,205,0.38)"/>
<circle cx="1059.1" cy="557.1" r="3.7" fill="rgba(120,185,205,0.38)"/>
<circle cx="958.5" cy="567.9" r="3.7" fill="rgba(120,185,205,0.38)"/>
<circle cx="1034.3" cy="567.9" r="3.7" fill="rgba(120,185,205,0.38)"/>
<circle cx="993.6" cy="563.0" r="3.7" fill="rgba(120,185,205,0.38)"/>
<circle cx="1121.6" cy="572.8" r="3.7" fill="rgba(120,185,205,0.38)"/>
<circle cx="1121.6" cy="577.7" r="3.7" fill="rgba(120,185,205,0.38)"/>
<circle cx="1155.8" cy="580.0" r="3.7" fill="rgba(120,185,205,0.38)"/>
<circle cx="1155.8" cy="593.9" r="3.7" fill="rgba(120,185,205,0.38)"/>
<circle cx="1158.8" cy="604.0" r="3.7" fill="rgba(120,185,205,0.38)"/>
<circle cx="1225.2" cy="555.6" r="3.7" fill="rgba(120,185,205,0.38)"/>
<circle cx="1060.1" cy="593.9" r="3.7" fill="rgba(120,185,205,0.38)"/>
<circle cx="1060.1" cy="601.1" r="3.7" fill="rgba(120,185,205,0.38)"/>
<circle cx="958.5" cy="605.0" r="3.7" fill="rgba(120,185,205,0.38)"/>
<circle cx="1155.8" cy="617.7" r="3.7" fill="rgba(120,185,205,0.38)"/>
<circle cx="967.2" cy="519.0" r="3.7" fill="rgba(120,185,205,0.38)"/>
<circle cx="1365.9" cy="484.4" r="3.7" fill="rgba(120,185,205,0.38)"/>
<circle cx="1365.9" cy="493.6" r="3.7" fill="rgba(120,185,205,0.38)"/>
<circle cx="1365.9" cy="501.4" r="3.7" fill="rgba(120,185,205,0.38)"/>
<circle cx="1418.3" cy="478.6" r="3.7" fill="rgba(120,185,205,0.38)"/>
<circle cx="1418.3" cy="509.6" r="3.7" fill="rgba(120,185,205,0.38)"/>
<circle cx="1268.6" cy="496.5" r="3.7" fill="rgba(120,185,205,0.38)"/>
<circle cx="1268.6" cy="500.8" r="3.7" fill="rgba(120,185,205,0.38)"/>
<circle cx="1268.6" cy="512.2" r="3.7" fill="rgba(120,185,205,0.38)"/>
<circle cx="1310.2" cy="497.5" r="3.7" fill="rgba(120,185,205,0.38)"/>
<circle cx="1365.9" cy="523.9" r="3.7" fill="rgba(120,185,205,0.38)"/>
<circle cx="1379.2" cy="530.4" r="3.7" fill="rgba(120,185,205,0.38)"/>
<circle cx="1365.9" cy="539.9" r="3.7" fill="rgba(120,185,205,0.38)"/>
<circle cx="1268.6" cy="534.1" r="3.7" fill="rgba(120,185,205,0.38)"/>
<circle cx="1268.6" cy="547.0" r="3.7" fill="rgba(120,185,205,0.38)"/>
<circle cx="1268.6" cy="602.7" r="3.7" fill="rgba(120,185,205,0.38)"/>
<path d="M932.1,45.4V652.8H1540" fill="none" stroke="#333" stroke-width="2" stroke-linecap="square"/>
<line x1="958.0" y1="652.8" x2="958.0" y2="658.3" stroke="#333" stroke-width="2.3"/>
<text x="958.0" y="683.5" text-anchor="middle" font-size="33" fill="#4D4D4D" style='font-family:"Liberation Sans",Arial,Helvetica,sans-serif'>0</text>
<line x1="1086.8" y1="652.8" x2="1086.8" y2="658.3" stroke="#333" stroke-width="2.3"/>
<text x="1086.8" y="683.5" text-anchor="middle" font-size="33" fill="#4D4D4D" style='font-family:"Liberation Sans",Arial,Helvetica,sans-serif'>1</text>
<line x1="1215.5" y1="652.8" x2="1215.5" y2="658.3" stroke="#333" stroke-width="2.3"/>
<text x="1215.5" y="683.5" text-anchor="middle" font-size="33" fill="#4D4D4D" style='font-family:"Liberation Sans",Arial,Helvetica,sans-serif'>2</text>
<line x1="1344.2" y1="652.8" x2="1344.2" y2="658.3" stroke="#333" stroke-width="2.3"/>
<text x="1344.2" y="683.5" text-anchor="middle" font-size="33" fill="#4D4D4D" style='font-family:"Liberation Sans",Arial,Helvetica,sans-serif'>3</text>
<line x1="1473.0" y1="652.8" x2="1473.0" y2="658.3" stroke="#333" stroke-width="2.3"/>
<text x="1473.0" y="683.5" text-anchor="middle" font-size="33" fill="#4D4D4D" style='font-family:"Liberation Sans",Arial,Helvetica,sans-serif'>4</text>
<line x1="926.6" y1="579.2" x2="932.1" y2="579.2" stroke="#333" stroke-width="2.3"/>
<text x="920.8000000000001" y="587.9" text-anchor="end" font-size="33" fill="#4D4D4D" style='font-family:"Liberation Sans",Arial,Helvetica,sans-serif'>5</text>
<line x1="926.6" y1="389.0" x2="932.1" y2="389.0" stroke="#333" stroke-width="2.3"/>
<text x="926.8000000000001" y="397.6" text-anchor="end" font-size="33" fill="#4D4D4D" style='font-family:"Liberation Sans",Arial,Helvetica,sans-serif'>10</text>
<line x1="926.6" y1="198.8" x2="932.1" y2="198.8" stroke="#333" stroke-width="2.3"/>
<text x="926.8000000000001" y="207.3" text-anchor="end" font-size="33" fill="#4D4D4D" style='font-family:"Liberation Sans",Arial,Helvetica,sans-serif'>15</text>
<text x="0" y="28.5" font-size="38.5" fill="#000" style='font-family:"Liberation Sans",Arial,Helvetica,sans-serif'>A</text>
<text x="791" y="27.7" font-size="38.5" fill="#000" style='font-family:"Liberation Sans",Arial,Helvetica,sans-serif'>B</text>
<text x="151.5" y="727" font-size="38.5" fill="#000" style='font-family:"Liberation Sans",Arial,Helvetica,sans-serif'>Resource overlap with honeybees</text>
<text x="956.2" y="727" font-size="38.5" fill="#000" style='font-family:"Liberation Sans",Arial,Helvetica,sans-serif'>Resource overlap with honeybees</text>
<text transform="translate(71.6,328.3) rotate(-90)" text-anchor="middle" font-size="38.5" fill="#000" style='font-family:"Liberation Sans",Arial,Helvetica,sans-serif'>BQCV copies per individual [log]</text>
<text transform="translate(865.7,335.1) rotate(-90)" text-anchor="middle" font-size="38.5" fill="#000" style='font-family:"Liberation Sans",Arial,Helvetica,sans-serif'>DWV−B copies per individual [log]</text>
<rect x="968.3" y="68.6" width="6.5" height="5" fill="#FBE3A0"/>
<text x="960" y="90.3" font-size="38.5" fill="#000" style='font-family:"Liberation Sans",Arial,Helvetica,sans-serif'>Flower shape</text>
<line x1="969" y1="128.8" x2="1023" y2="128.8" stroke="#F9B717" stroke-width="5.4"/>
<line x1="969" y1="162.6" x2="1024" y2="162.6" stroke="#70BEC8" stroke-width="5.2" stroke-dasharray="21.8 11.3"/>
<text x="1051" y="136.4" font-size="33" fill="#000" style='font-family:"Liberation Sans",Arial,Helvetica,sans-serif'>dish</text>
<text x="1051" y="170" font-size="33" fill="#000" style='font-family:"Liberation Sans",Arial,Helvetica,sans-serif'>not dish</text>
</svg>
</body></html>
